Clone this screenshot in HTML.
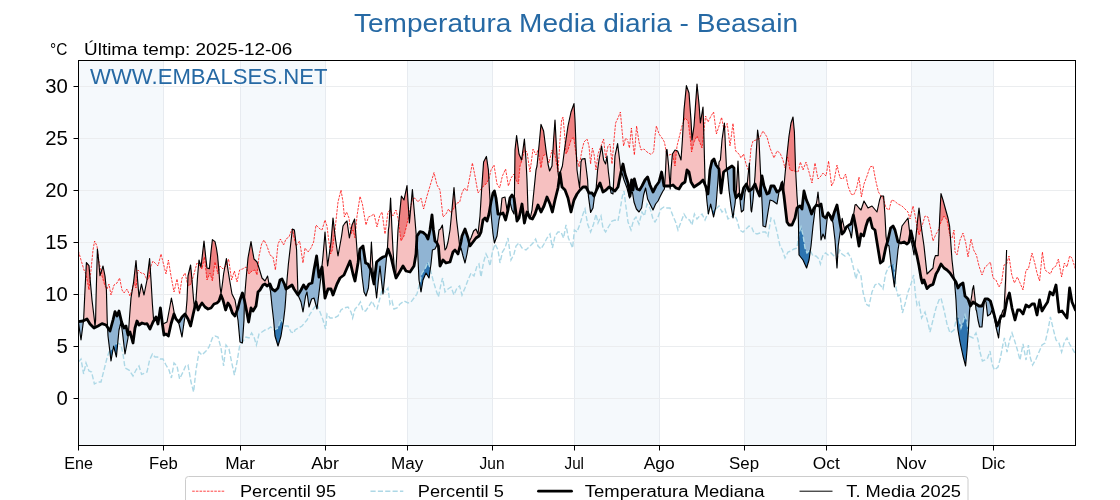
<!DOCTYPE html>
<html><head><meta charset="utf-8"><title>Temperatura Media diaria - Beasain</title>
<style>
html,body{margin:0;padding:0;background:#fff;}
body{width:1120px;height:500px;overflow:hidden;}
svg{display:block;font-family:"Liberation Sans",sans-serif;}
svg{will-change:transform;}
</style></head><body>
<svg width="1120" height="500" viewBox="0 0 1120 500">
<rect width="1120" height="500" fill="#ffffff"/>

<rect x="78.5" y="60.5" width="84.9" height="385.0" fill="#f5f9fc"/>
<rect x="240.1" y="60.5" width="84.9" height="385.0" fill="#f5f9fc"/>
<rect x="407.2" y="60.5" width="84.9" height="385.0" fill="#f5f9fc"/>
<rect x="574.3" y="60.5" width="84.9" height="385.0" fill="#f5f9fc"/>
<rect x="744.1" y="60.5" width="82.2" height="385.0" fill="#f5f9fc"/>
<rect x="911.2" y="60.5" width="82.2" height="385.0" fill="#f5f9fc"/>
<line x1="163.5" y1="60.5" x2="163.5" y2="445.5" stroke="#e7ebf0" stroke-width="1"/>
<line x1="240.5" y1="60.5" x2="240.5" y2="445.5" stroke="#e7ebf0" stroke-width="1"/>
<line x1="325.5" y1="60.5" x2="325.5" y2="445.5" stroke="#e7ebf0" stroke-width="1"/>
<line x1="407.5" y1="60.5" x2="407.5" y2="445.5" stroke="#e7ebf0" stroke-width="1"/>
<line x1="492.5" y1="60.5" x2="492.5" y2="445.5" stroke="#e7ebf0" stroke-width="1"/>
<line x1="574.5" y1="60.5" x2="574.5" y2="445.5" stroke="#e7ebf0" stroke-width="1"/>
<line x1="659.5" y1="60.5" x2="659.5" y2="445.5" stroke="#e7ebf0" stroke-width="1"/>
<line x1="744.5" y1="60.5" x2="744.5" y2="445.5" stroke="#e7ebf0" stroke-width="1"/>
<line x1="826.5" y1="60.5" x2="826.5" y2="445.5" stroke="#e7ebf0" stroke-width="1"/>
<line x1="911.5" y1="60.5" x2="911.5" y2="445.5" stroke="#e7ebf0" stroke-width="1"/>
<line x1="993.5" y1="60.5" x2="993.5" y2="445.5" stroke="#e7ebf0" stroke-width="1"/>
<line x1="78.5" y1="398.5" x2="1075.5" y2="398.5" stroke="#ebedef" stroke-width="1"/>
<line x1="78.5" y1="346.5" x2="1075.5" y2="346.5" stroke="#ebedef" stroke-width="1"/>
<line x1="78.5" y1="294.5" x2="1075.5" y2="294.5" stroke="#ebedef" stroke-width="1"/>
<line x1="78.5" y1="242.5" x2="1075.5" y2="242.5" stroke="#ebedef" stroke-width="1"/>
<line x1="78.5" y1="190.5" x2="1075.5" y2="190.5" stroke="#ebedef" stroke-width="1"/>
<line x1="78.5" y1="138.5" x2="1075.5" y2="138.5" stroke="#ebedef" stroke-width="1"/>
<line x1="78.5" y1="86.5" x2="1075.5" y2="86.5" stroke="#ebedef" stroke-width="1"/>
<defs>
<clipPath id="cplot"><rect x="78.5" y="60.5" width="997.0" height="385.0"/></clipPath>
<clipPath id="aboveMed"><polygon points="78.4,321.6 83.0,321.0 87.0,319.0 90.0,324.0 94.0,328.0 98.0,326.0 102.0,323.6 106.0,325.0 110.0,331.0 113.0,320.0 115.0,311.6 117.0,316.0 119.0,311.0 121.6,322.0 124.0,328.0 126.0,326.0 128.0,335.0 130.0,332.0 133.0,343.0 135.0,328.0 137.0,321.0 139.0,325.0 142.0,323.0 145.0,324.0 147.0,323.6 150.0,329.0 153.0,322.0 156.0,317.0 158.0,324.0 160.4,308.0 162.4,324.0 164.0,335.0 166.0,334.0 168.4,336.0 171.0,324.0 174.0,314.0 176.0,319.0 179.0,322.0 182.0,317.0 185.0,314.0 188.0,319.0 190.6,326.0 193.0,315.0 196.0,302.0 198.0,310.0 200.0,306.0 202.0,303.0 205.0,307.0 208.0,309.0 211.0,308.0 214.0,304.0 217.0,303.0 219.0,301.0 221.0,295.0 223.0,300.0 225.6,310.0 228.0,303.0 230.0,306.0 232.4,313.0 235.0,316.0 238.0,308.0 240.0,300.0 242.4,293.0 244.4,300.0 246.4,310.0 248.6,322.0 251.0,308.0 253.0,311.0 256.0,306.0 258.0,292.0 260.0,290.0 263.0,285.0 265.0,284.0 267.0,286.0 270.0,284.0 272.0,289.0 275.0,291.0 278.0,288.0 280.0,280.0 282.0,279.0 284.4,284.0 286.0,289.0 289.0,287.0 292.0,285.0 294.0,289.0 298.0,295.0 301.0,290.0 303.6,285.0 306.0,289.0 309.0,284.0 312.0,283.0 314.0,270.0 316.6,256.0 319.0,277.0 322.0,267.0 325.0,298.0 328.0,289.0 331.0,289.0 333.0,295.0 337.0,284.0 340.0,278.0 344.0,275.0 347.0,268.0 350.0,261.0 353.0,274.0 355.0,281.0 358.0,263.0 360.0,249.0 363.0,246.0 365.6,263.0 368.0,264.0 371.0,270.0 374.0,284.0 376.6,262.0 380.0,259.0 383.0,257.0 386.0,256.0 388.0,249.0 391.0,257.0 394.0,270.0 396.0,278.0 399.0,273.0 403.0,266.0 406.0,271.0 410.0,272.0 414.0,266.0 416.0,254.0 417.0,236.0 420.0,231.6 423.0,232.4 426.0,235.0 428.0,239.0 430.0,230.0 432.0,215.0 433.4,230.0 435.0,241.0 437.0,243.0 438.4,246.0 440.0,266.0 443.0,260.0 446.0,263.0 450.0,262.0 453.0,252.0 455.0,250.0 458.0,254.0 461.0,242.0 462.0,236.0 465.0,229.0 468.0,238.0 470.0,246.0 473.0,242.0 476.0,238.0 479.0,236.0 481.0,232.0 483.0,220.0 485.0,218.0 487.0,221.0 489.0,214.0 491.0,202.0 493.0,193.0 494.4,191.0 496.0,198.0 498.0,214.0 501.0,214.0 503.0,213.0 505.6,220.0 508.0,210.0 510.0,198.0 512.0,195.0 514.0,198.0 517.0,221.0 519.0,218.0 522.0,204.0 524.4,223.0 527.0,212.0 530.0,218.0 532.4,219.0 535.0,214.0 538.0,205.0 541.0,212.0 544.0,206.0 547.0,197.0 550.0,204.0 552.4,212.0 555.0,200.0 558.0,188.0 560.0,173.0 562.0,187.0 565.0,190.0 568.0,198.0 571.0,212.0 574.0,200.0 577.0,194.0 580.0,190.0 583.0,187.0 586.0,187.0 589.0,193.0 592.0,193.0 594.0,196.0 597.0,189.0 600.0,183.0 603.0,192.0 606.0,190.0 609.0,187.0 612.0,189.0 615.0,191.0 618.0,187.0 621.0,172.0 623.0,164.0 625.0,174.0 628.0,183.0 630.0,196.0 631.6,180.0 633.0,190.0 634.4,179.0 637.0,189.0 639.6,190.0 642.0,186.0 645.0,180.0 647.6,177.0 650.0,185.0 653.0,192.0 656.0,186.0 659.0,182.0 661.6,172.0 664.0,186.0 667.0,186.0 670.0,186.0 673.0,185.0 676.0,188.0 679.0,189.0 682.0,184.0 685.0,182.0 687.0,170.0 689.0,172.0 691.0,182.0 694.0,187.0 697.0,185.0 700.0,183.0 703.0,180.0 705.6,186.0 708.0,194.0 710.0,170.0 712.0,161.0 714.0,159.0 716.0,165.0 719.0,169.0 721.0,193.0 723.6,172.0 726.0,170.0 729.0,168.0 732.0,166.0 734.0,168.0 734.3,190.0 736.0,198.0 739.0,194.0 741.0,199.0 743.6,188.0 746.4,184.0 749.0,191.0 752.0,189.0 755.0,184.0 757.0,190.0 759.6,196.0 762.0,176.0 764.0,186.0 767.0,194.0 769.0,193.0 771.0,186.0 774.0,186.0 777.0,192.0 780.0,190.0 782.0,183.0 784.0,196.0 785.6,210.0 787.0,222.0 789.0,225.0 792.0,225.0 795.0,218.0 797.0,208.0 800.0,206.0 802.0,209.0 804.0,191.0 806.4,200.0 809.0,206.0 811.6,214.0 814.0,208.0 816.4,205.0 819.0,206.0 821.0,204.0 823.0,216.0 825.6,218.0 828.0,213.0 830.0,216.0 832.0,220.0 834.4,212.0 837.0,205.0 840.0,223.0 842.0,234.0 844.0,232.0 846.4,227.0 849.0,225.0 851.0,224.0 853.4,215.0 856.0,228.0 859.0,246.0 861.0,234.0 863.6,236.0 866.0,226.0 868.0,220.0 870.0,218.0 872.4,228.0 875.0,230.0 877.6,246.0 880.4,263.0 883.0,261.0 885.6,248.0 888.0,240.0 890.6,228.0 893.0,226.0 895.0,230.0 898.0,242.0 901.0,243.0 904.0,242.0 907.0,244.0 909.0,242.0 911.0,231.0 913.0,240.0 915.0,248.0 917.0,256.0 919.0,266.0 921.0,278.0 922.4,283.0 924.0,280.0 927.0,288.6 930.0,285.6 933.0,284.4 936.0,274.0 938.0,270.6 941.0,264.0 944.0,268.0 947.0,270.0 950.0,273.0 954.0,279.0 956.0,282.0 958.0,288.0 960.0,285.0 963.0,283.0 965.0,296.0 968.0,299.0 970.4,306.0 973.0,302.0 976.0,304.0 979.0,306.0 982.0,306.0 985.0,299.0 988.0,299.0 990.4,301.0 993.0,310.0 995.0,318.0 997.0,326.0 999.0,322.0 1001.0,316.0 1004.0,316.0 1007.0,300.0 1009.4,293.0 1012.0,308.0 1015.0,320.0 1017.6,310.0 1020.0,310.0 1023.0,314.0 1026.0,305.0 1029.0,307.0 1032.0,304.0 1034.4,304.0 1037.0,315.0 1039.6,300.0 1042.0,311.0 1045.0,306.0 1047.6,302.0 1050.0,292.0 1053.0,295.0 1056.0,285.0 1059.0,312.0 1062.0,311.0 1067.0,318.0 1069.6,288.0 1072.0,302.0 1075.4,310.0 1075.4,0 78.4,0"/></clipPath>
<clipPath id="belowMed"><polygon points="78.4,321.6 83.0,321.0 87.0,319.0 90.0,324.0 94.0,328.0 98.0,326.0 102.0,323.6 106.0,325.0 110.0,331.0 113.0,320.0 115.0,311.6 117.0,316.0 119.0,311.0 121.6,322.0 124.0,328.0 126.0,326.0 128.0,335.0 130.0,332.0 133.0,343.0 135.0,328.0 137.0,321.0 139.0,325.0 142.0,323.0 145.0,324.0 147.0,323.6 150.0,329.0 153.0,322.0 156.0,317.0 158.0,324.0 160.4,308.0 162.4,324.0 164.0,335.0 166.0,334.0 168.4,336.0 171.0,324.0 174.0,314.0 176.0,319.0 179.0,322.0 182.0,317.0 185.0,314.0 188.0,319.0 190.6,326.0 193.0,315.0 196.0,302.0 198.0,310.0 200.0,306.0 202.0,303.0 205.0,307.0 208.0,309.0 211.0,308.0 214.0,304.0 217.0,303.0 219.0,301.0 221.0,295.0 223.0,300.0 225.6,310.0 228.0,303.0 230.0,306.0 232.4,313.0 235.0,316.0 238.0,308.0 240.0,300.0 242.4,293.0 244.4,300.0 246.4,310.0 248.6,322.0 251.0,308.0 253.0,311.0 256.0,306.0 258.0,292.0 260.0,290.0 263.0,285.0 265.0,284.0 267.0,286.0 270.0,284.0 272.0,289.0 275.0,291.0 278.0,288.0 280.0,280.0 282.0,279.0 284.4,284.0 286.0,289.0 289.0,287.0 292.0,285.0 294.0,289.0 298.0,295.0 301.0,290.0 303.6,285.0 306.0,289.0 309.0,284.0 312.0,283.0 314.0,270.0 316.6,256.0 319.0,277.0 322.0,267.0 325.0,298.0 328.0,289.0 331.0,289.0 333.0,295.0 337.0,284.0 340.0,278.0 344.0,275.0 347.0,268.0 350.0,261.0 353.0,274.0 355.0,281.0 358.0,263.0 360.0,249.0 363.0,246.0 365.6,263.0 368.0,264.0 371.0,270.0 374.0,284.0 376.6,262.0 380.0,259.0 383.0,257.0 386.0,256.0 388.0,249.0 391.0,257.0 394.0,270.0 396.0,278.0 399.0,273.0 403.0,266.0 406.0,271.0 410.0,272.0 414.0,266.0 416.0,254.0 417.0,236.0 420.0,231.6 423.0,232.4 426.0,235.0 428.0,239.0 430.0,230.0 432.0,215.0 433.4,230.0 435.0,241.0 437.0,243.0 438.4,246.0 440.0,266.0 443.0,260.0 446.0,263.0 450.0,262.0 453.0,252.0 455.0,250.0 458.0,254.0 461.0,242.0 462.0,236.0 465.0,229.0 468.0,238.0 470.0,246.0 473.0,242.0 476.0,238.0 479.0,236.0 481.0,232.0 483.0,220.0 485.0,218.0 487.0,221.0 489.0,214.0 491.0,202.0 493.0,193.0 494.4,191.0 496.0,198.0 498.0,214.0 501.0,214.0 503.0,213.0 505.6,220.0 508.0,210.0 510.0,198.0 512.0,195.0 514.0,198.0 517.0,221.0 519.0,218.0 522.0,204.0 524.4,223.0 527.0,212.0 530.0,218.0 532.4,219.0 535.0,214.0 538.0,205.0 541.0,212.0 544.0,206.0 547.0,197.0 550.0,204.0 552.4,212.0 555.0,200.0 558.0,188.0 560.0,173.0 562.0,187.0 565.0,190.0 568.0,198.0 571.0,212.0 574.0,200.0 577.0,194.0 580.0,190.0 583.0,187.0 586.0,187.0 589.0,193.0 592.0,193.0 594.0,196.0 597.0,189.0 600.0,183.0 603.0,192.0 606.0,190.0 609.0,187.0 612.0,189.0 615.0,191.0 618.0,187.0 621.0,172.0 623.0,164.0 625.0,174.0 628.0,183.0 630.0,196.0 631.6,180.0 633.0,190.0 634.4,179.0 637.0,189.0 639.6,190.0 642.0,186.0 645.0,180.0 647.6,177.0 650.0,185.0 653.0,192.0 656.0,186.0 659.0,182.0 661.6,172.0 664.0,186.0 667.0,186.0 670.0,186.0 673.0,185.0 676.0,188.0 679.0,189.0 682.0,184.0 685.0,182.0 687.0,170.0 689.0,172.0 691.0,182.0 694.0,187.0 697.0,185.0 700.0,183.0 703.0,180.0 705.6,186.0 708.0,194.0 710.0,170.0 712.0,161.0 714.0,159.0 716.0,165.0 719.0,169.0 721.0,193.0 723.6,172.0 726.0,170.0 729.0,168.0 732.0,166.0 734.0,168.0 734.3,190.0 736.0,198.0 739.0,194.0 741.0,199.0 743.6,188.0 746.4,184.0 749.0,191.0 752.0,189.0 755.0,184.0 757.0,190.0 759.6,196.0 762.0,176.0 764.0,186.0 767.0,194.0 769.0,193.0 771.0,186.0 774.0,186.0 777.0,192.0 780.0,190.0 782.0,183.0 784.0,196.0 785.6,210.0 787.0,222.0 789.0,225.0 792.0,225.0 795.0,218.0 797.0,208.0 800.0,206.0 802.0,209.0 804.0,191.0 806.4,200.0 809.0,206.0 811.6,214.0 814.0,208.0 816.4,205.0 819.0,206.0 821.0,204.0 823.0,216.0 825.6,218.0 828.0,213.0 830.0,216.0 832.0,220.0 834.4,212.0 837.0,205.0 840.0,223.0 842.0,234.0 844.0,232.0 846.4,227.0 849.0,225.0 851.0,224.0 853.4,215.0 856.0,228.0 859.0,246.0 861.0,234.0 863.6,236.0 866.0,226.0 868.0,220.0 870.0,218.0 872.4,228.0 875.0,230.0 877.6,246.0 880.4,263.0 883.0,261.0 885.6,248.0 888.0,240.0 890.6,228.0 893.0,226.0 895.0,230.0 898.0,242.0 901.0,243.0 904.0,242.0 907.0,244.0 909.0,242.0 911.0,231.0 913.0,240.0 915.0,248.0 917.0,256.0 919.0,266.0 921.0,278.0 922.4,283.0 924.0,280.0 927.0,288.6 930.0,285.6 933.0,284.4 936.0,274.0 938.0,270.6 941.0,264.0 944.0,268.0 947.0,270.0 950.0,273.0 954.0,279.0 956.0,282.0 958.0,288.0 960.0,285.0 963.0,283.0 965.0,296.0 968.0,299.0 970.4,306.0 973.0,302.0 976.0,304.0 979.0,306.0 982.0,306.0 985.0,299.0 988.0,299.0 990.4,301.0 993.0,310.0 995.0,318.0 997.0,326.0 999.0,322.0 1001.0,316.0 1004.0,316.0 1007.0,300.0 1009.4,293.0 1012.0,308.0 1015.0,320.0 1017.6,310.0 1020.0,310.0 1023.0,314.0 1026.0,305.0 1029.0,307.0 1032.0,304.0 1034.4,304.0 1037.0,315.0 1039.6,300.0 1042.0,311.0 1045.0,306.0 1047.6,302.0 1050.0,292.0 1053.0,295.0 1056.0,285.0 1059.0,312.0 1062.0,311.0 1067.0,318.0 1069.6,288.0 1072.0,302.0 1075.4,310.0 1075.4,500 78.4,500"/></clipPath>
<clipPath id="above95"><polygon points="78.4,251.0 81.0,260.0 84.0,270.0 86.0,274.0 89.0,290.0 91.0,270.0 93.0,250.0 94.6,241.0 97.0,246.0 99.0,262.0 102.0,276.0 105.0,286.0 107.0,289.0 109.0,284.0 111.0,295.0 114.0,285.0 117.0,283.0 119.6,278.0 122.0,290.0 124.0,293.0 127.0,289.0 130.0,296.0 132.0,290.0 134.0,282.0 136.0,288.0 138.0,270.0 141.0,273.0 144.0,273.6 147.0,280.0 149.0,278.0 151.0,266.0 153.0,261.0 155.0,263.0 158.0,266.0 161.0,254.0 163.0,262.0 166.0,274.0 168.4,260.0 171.0,276.0 174.0,292.0 177.0,279.0 179.6,294.0 182.0,278.0 185.0,273.0 188.0,286.0 191.0,284.0 194.0,274.0 197.0,263.0 200.0,266.0 202.0,269.0 204.4,257.0 207.0,280.0 210.0,273.0 212.4,281.0 215.0,262.0 218.0,274.0 220.0,266.0 223.0,269.0 226.0,266.0 228.6,259.0 231.6,280.0 234.4,271.0 237.0,282.0 239.6,270.0 242.4,269.0 246.0,267.0 249.0,274.0 252.0,271.0 255.0,270.0 257.0,275.0 259.0,256.0 261.6,244.0 264.0,240.0 267.0,246.0 270.0,255.0 273.0,257.0 275.4,270.0 278.0,244.0 280.4,239.0 283.6,245.0 286.0,239.0 289.0,237.0 292.0,229.0 296.0,246.0 299.6,241.0 301.0,250.0 303.0,263.0 305.0,248.0 308.0,252.0 311.0,248.0 313.6,242.0 316.0,225.0 320.0,229.0 322.0,230.0 325.0,220.0 327.0,226.0 328.4,238.0 330.6,254.0 332.4,250.0 335.0,230.0 338.0,202.0 341.0,190.0 343.0,202.0 344.4,217.0 346.6,212.0 349.0,218.0 351.0,234.0 353.0,230.0 355.0,238.0 357.0,216.0 360.0,196.4 362.4,204.0 364.4,216.0 366.0,225.0 368.4,217.0 371.0,216.0 374.0,214.0 377.0,227.0 379.6,216.0 382.0,212.0 385.0,234.0 388.0,212.0 390.0,210.0 393.0,216.0 396.0,210.0 398.0,218.0 401.0,241.0 404.0,236.0 407.0,224.0 410.0,210.0 412.4,199.0 415.0,198.0 418.0,202.0 421.0,198.0 423.6,209.0 427.0,196.0 430.0,186.0 434.0,172.6 437.0,185.0 440.0,190.0 443.0,217.0 446.0,214.0 448.6,209.0 451.0,213.0 454.0,208.0 457.0,203.0 459.6,202.4 462.0,193.0 464.4,188.0 467.0,191.0 470.0,176.0 472.4,163.0 475.0,176.0 478.0,193.0 481.0,189.0 483.6,186.0 486.0,184.0 489.0,179.0 491.0,170.0 494.0,165.0 497.0,184.0 499.6,188.0 502.4,176.0 505.6,169.0 508.4,186.0 511.0,178.0 514.0,174.0 516.0,180.0 518.4,184.0 520.0,166.0 522.0,160.0 524.4,150.0 527.0,152.0 530.0,172.0 533.0,149.0 536.0,155.0 538.0,150.0 541.0,168.0 543.0,156.0 546.0,154.0 549.0,163.0 552.0,150.0 555.0,155.0 558.0,172.0 560.0,140.0 561.6,120.0 563.0,117.0 564.4,132.0 566.0,154.0 568.0,150.0 571.0,140.0 573.6,137.0 576.0,154.0 579.0,167.0 582.0,150.0 584.0,142.0 587.0,139.0 589.0,146.0 590.6,164.0 592.4,148.0 594.0,154.0 596.0,170.0 598.0,154.0 601.0,146.0 603.6,139.0 605.6,158.0 608.0,146.0 610.0,144.0 612.0,164.0 614.0,140.0 615.6,123.0 618.0,118.0 620.4,112.0 622.0,130.0 623.6,146.0 625.6,138.0 627.6,140.0 629.4,148.0 631.4,128.0 633.0,144.0 634.4,155.0 636.6,126.0 639.0,142.0 641.0,150.0 644.0,149.0 647.0,152.0 651.0,154.4 653.6,152.0 655.0,136.0 656.4,126.0 659.0,134.0 662.0,138.0 664.4,142.0 667.0,156.0 669.0,155.0 672.4,154.0 675.0,166.0 677.0,146.0 680.0,134.0 682.0,126.0 685.0,118.0 688.0,121.0 690.0,136.0 691.6,152.0 694.0,142.0 697.0,136.0 699.6,142.0 702.0,148.0 704.0,130.0 705.6,116.0 708.0,122.0 711.0,116.0 713.6,112.0 716.4,134.0 719.0,126.0 721.6,117.4 724.0,130.0 727.2,123.4 730.0,146.0 733.0,123.4 735.4,150.0 736.4,152.0 739.0,154.0 741.0,158.0 743.6,154.0 746.0,164.0 749.0,172.0 751.0,148.0 753.0,141.0 756.0,140.0 759.0,139.0 763.0,131.0 767.0,137.0 770.0,148.0 774.0,158.0 777.0,151.0 780.0,153.0 783.0,160.0 785.0,168.0 787.6,157.0 790.0,170.0 794.0,171.0 798.0,172.0 800.4,162.0 803.0,170.0 806.0,162.0 809.0,172.0 812.0,183.0 815.0,163.0 818.0,179.0 821.0,176.0 823.0,173.0 826.0,176.0 828.6,161.0 831.6,186.0 834.0,181.0 837.0,165.0 840.0,178.0 843.0,179.0 845.6,174.0 848.0,186.0 851.0,194.0 853.6,195.0 856.4,189.0 859.0,177.0 861.4,197.0 864.0,184.0 867.0,176.0 870.0,167.0 873.0,166.0 875.6,180.0 878.4,192.0 881.0,196.0 883.6,199.0 886.0,208.0 889.0,210.0 891.6,200.0 894.4,201.0 898.0,204.0 902.0,206.0 905.0,209.0 908.0,212.0 910.0,219.0 913.0,206.0 915.0,215.0 917.0,227.0 919.0,235.0 922.0,226.0 925.0,216.0 928.0,217.0 931.0,230.0 933.0,241.0 936.0,234.0 938.0,231.0 941.0,222.0 944.0,216.0 947.0,220.0 950.0,236.0 952.0,238.0 954.0,230.0 955.0,252.0 957.0,255.0 960.0,240.0 963.0,233.0 965.6,242.0 968.0,257.0 971.0,239.0 973.6,250.0 976.4,255.0 979.0,266.0 982.0,275.0 985.0,267.0 987.6,265.0 990.4,262.0 993.0,278.0 996.0,280.0 999.0,287.0 1001.6,282.0 1004.0,265.0 1006.6,264.0 1009.0,256.0 1011.6,274.0 1014.4,283.0 1017.4,277.0 1020.0,283.0 1023.0,290.0 1026.0,270.0 1028.4,269.0 1032.0,253.0 1035.0,264.0 1037.0,273.0 1039.6,281.0 1042.4,252.0 1045.0,270.0 1047.6,272.0 1050.4,274.0 1053.0,268.0 1056.0,266.0 1058.4,259.0 1061.6,277.0 1064.4,263.0 1067.0,267.0 1069.6,256.0 1072.0,258.0 1075.4,269.0 1075.4,0 78.4,0"/></clipPath>
<clipPath id="below5"><polygon points="78.4,362.0 81.0,359.0 83.6,374.0 86.0,363.0 89.0,371.0 91.6,372.0 94.4,384.0 98.0,382.0 101.0,382.0 104.0,370.0 107.0,358.0 109.0,352.0 112.0,349.0 115.0,345.0 118.0,343.0 121.0,345.0 123.0,354.0 125.0,368.0 129.0,370.0 133.0,376.0 136.0,370.0 139.0,366.0 141.6,374.4 145.0,373.0 147.0,372.0 149.6,360.0 152.4,354.0 155.0,357.0 157.6,357.0 160.0,359.0 163.0,359.0 166.0,365.0 169.0,370.0 171.4,378.0 174.0,363.0 177.0,366.0 179.6,379.0 183.0,372.0 185.6,366.0 188.0,365.0 191.0,382.0 193.6,392.0 196.0,370.0 199.0,352.0 202.0,355.0 206.0,351.0 209.0,347.0 212.4,338.0 215.0,336.0 218.0,337.0 221.0,348.0 223.6,366.0 226.0,345.0 229.0,349.0 231.6,362.0 234.4,375.0 237.0,362.0 239.6,346.0 242.4,342.0 246.0,337.0 249.0,338.0 251.6,333.0 254.0,337.0 256.4,345.0 259.0,334.0 262.0,332.0 265.0,330.0 268.0,329.0 270.6,327.0 274.0,330.0 278.0,328.0 281.0,319.0 285.0,326.0 288.0,326.0 291.0,332.0 294.0,333.0 295.0,330.0 302.0,326.0 307.0,320.0 310.0,314.0 314.0,308.0 317.0,304.0 320.0,312.0 323.0,320.0 325.6,329.0 327.0,314.0 330.0,318.0 334.0,318.0 338.0,316.0 341.0,310.0 344.0,308.0 348.0,307.0 351.0,312.0 352.6,318.0 355.0,309.0 358.0,306.0 360.4,302.0 363.0,311.0 365.6,311.0 369.0,306.0 372.0,301.0 375.0,307.0 377.0,309.0 380.0,298.0 382.4,288.0 385.0,292.0 388.0,288.0 390.0,304.0 392.0,301.0 394.0,309.0 397.0,308.0 400.0,304.0 404.0,301.0 408.0,303.0 411.0,302.0 414.0,298.0 417.0,294.0 420.0,282.0 422.0,273.0 425.0,269.0 428.0,262.0 430.0,268.0 433.0,280.0 436.0,290.0 438.4,297.0 441.0,284.0 442.6,278.0 445.0,292.0 448.0,289.0 451.0,287.0 454.0,295.0 457.0,288.0 459.6,286.0 462.0,295.0 465.0,288.0 468.0,280.0 471.0,273.0 474.0,276.0 477.0,266.0 479.0,264.0 481.0,277.0 483.6,262.0 486.0,254.0 488.0,258.0 490.0,266.0 492.4,252.0 495.0,244.0 498.0,250.0 500.0,263.0 502.4,252.0 505.0,248.0 508.0,238.0 511.0,260.0 514.0,254.0 516.0,246.0 519.0,243.0 522.0,248.0 526.0,250.0 530.0,246.0 533.0,243.0 535.6,239.0 538.0,246.0 541.0,249.0 544.0,244.0 547.0,238.0 550.0,234.0 552.4,248.0 555.0,236.0 558.0,232.0 561.0,232.0 563.6,238.0 566.0,225.0 568.4,238.0 571.0,244.0 572.6,248.0 574.4,230.0 577.0,232.0 580.0,224.0 583.0,214.0 585.0,209.0 587.6,224.0 590.6,232.0 593.6,224.0 596.0,214.0 598.0,223.0 601.0,216.0 603.0,228.0 605.6,232.0 609.0,226.0 612.0,221.0 615.0,220.0 618.0,221.0 620.4,208.0 622.4,196.0 624.0,191.0 625.6,204.0 628.0,222.0 631.0,230.0 633.6,220.0 636.0,217.0 639.0,224.0 642.0,212.0 644.4,216.0 647.0,204.0 650.0,208.0 653.0,219.0 655.0,222.0 658.0,217.0 661.0,209.0 664.0,207.0 667.0,208.0 670.0,208.0 673.0,216.0 675.6,222.0 678.0,230.0 681.0,222.0 684.0,214.0 687.0,219.0 689.6,220.0 692.0,225.0 694.4,214.0 697.0,219.0 699.6,216.0 702.0,214.0 705.0,220.0 707.6,214.0 710.0,207.0 713.0,210.0 716.0,209.0 719.0,206.0 722.0,212.0 725.0,209.0 728.0,219.0 731.0,217.0 734.0,214.0 737.0,220.0 739.6,230.0 743.0,232.0 746.0,229.0 749.0,226.0 751.6,227.0 754.0,233.0 757.0,234.0 760.0,233.0 763.0,232.0 765.6,232.0 768.0,236.0 771.0,218.0 774.0,220.0 777.0,232.0 780.0,246.0 782.4,250.0 785.0,258.0 788.0,252.0 791.0,251.0 794.0,249.0 797.0,248.0 799.0,233.0 801.0,227.0 803.0,235.0 805.0,248.0 807.0,253.0 810.0,250.0 813.0,256.0 816.0,256.0 819.0,259.0 820.4,264.0 823.0,255.0 825.6,253.0 828.0,255.0 831.0,253.0 834.0,256.0 837.0,259.0 839.6,250.0 842.0,254.0 845.0,256.0 848.0,253.0 851.0,258.0 853.0,266.0 856.0,279.0 858.0,270.0 861.0,276.0 863.0,292.0 866.0,304.0 869.0,306.0 872.0,292.0 875.0,285.0 878.0,283.0 881.0,286.0 883.0,289.0 885.6,274.0 888.0,268.0 891.0,265.0 894.0,264.0 896.0,288.0 898.0,296.0 900.0,295.0 902.4,313.0 905.0,304.0 908.0,292.0 911.0,284.0 913.6,275.0 915.6,296.0 917.0,305.0 919.0,302.0 921.6,318.0 925.0,312.0 928.0,323.0 930.0,332.0 933.0,320.0 936.0,308.0 939.0,300.0 941.0,298.0 944.0,310.0 947.0,324.0 950.0,333.0 954.0,330.0 957.0,316.0 959.0,319.0 961.0,328.0 963.0,322.0 965.0,315.0 967.0,322.0 969.0,336.0 973.0,338.0 976.0,333.0 978.0,340.0 980.0,352.0 982.4,361.0 985.0,360.0 987.6,358.0 990.0,351.0 992.0,364.0 994.4,370.0 998.0,367.0 1000.4,358.0 1003.0,344.0 1004.4,338.0 1007.0,352.0 1009.6,340.0 1012.0,333.0 1014.4,340.0 1017.4,350.0 1020.0,360.0 1023.0,344.0 1026.0,360.0 1028.4,345.0 1030.4,358.0 1032.6,365.0 1036.0,359.0 1039.0,352.0 1042.0,345.0 1045.0,343.0 1048.0,330.0 1050.4,317.0 1053.0,328.0 1056.0,340.0 1059.0,343.0 1061.6,352.0 1064.4,342.0 1067.0,338.0 1069.6,344.0 1072.0,348.0 1075.4,354.0 1075.4,500 78.4,500"/></clipPath>
</defs>
<g clip-path="url(#cplot)">
<g clip-path="url(#aboveMed)"><polygon points="78.4,322.0 81.0,340.0 83.6,320.0 85.0,290.0 86.4,262.6 89.0,265.6 90.0,278.0 92.0,300.0 94.4,320.0 95.0,327.0 95.6,320.0 96.0,300.0 97.4,249.0 98.6,260.0 100.0,275.6 103.0,266.0 105.0,276.0 106.4,290.0 107.2,320.0 108.0,336.0 111.0,361.0 113.6,346.0 116.4,357.0 119.0,330.0 121.0,322.0 122.4,332.0 125.0,354.0 128.0,338.0 129.2,322.0 129.6,316.0 131.0,298.0 133.6,282.0 136.0,260.6 137.6,280.0 139.0,297.0 141.4,284.0 144.0,295.0 147.0,280.0 149.6,258.6 151.0,280.0 152.4,304.0 153.6,320.0 156.0,317.0 158.0,324.0 160.4,308.0 162.4,324.0 164.0,323.6 167.0,322.0 170.0,306.0 171.4,298.0 173.0,306.0 174.4,314.0 176.0,319.0 179.0,324.0 182.0,337.0 184.4,320.0 186.0,312.0 187.0,300.0 188.0,276.0 190.6,265.0 192.0,280.0 193.6,300.0 194.4,307.0 196.0,300.0 197.6,276.0 199.0,260.0 201.0,267.0 204.0,241.0 205.6,256.0 207.0,268.0 209.4,268.6 211.0,252.0 212.4,239.6 215.0,241.6 216.4,248.0 217.6,256.0 219.0,272.0 220.0,286.0 221.0,294.0 222.4,284.0 223.6,274.0 226.4,258.6 228.0,270.0 229.6,280.0 232.0,294.0 235.0,300.0 236.4,308.0 237.6,318.0 238.0,320.0 240.0,342.0 242.4,343.0 244.0,320.0 244.4,300.0 246.0,280.0 248.0,258.0 251.0,241.6 252.4,250.0 254.0,259.0 257.0,262.0 259.0,268.0 262.0,278.0 265.0,281.0 267.6,276.0 269.0,284.0 270.6,292.0 272.0,306.0 273.6,320.0 275.0,336.0 278.0,346.0 281.0,336.0 283.6,320.0 285.0,308.0 285.6,300.0 287.0,280.0 288.4,264.0 290.0,250.0 292.4,229.0 294.4,230.0 295.6,240.0 296.6,250.0 297.2,270.0 298.0,295.0 301.0,302.0 303.0,312.0 305.6,296.0 307.0,292.0 309.0,307.0 311.6,299.0 314.0,298.0 317.0,309.0 319.6,288.0 321.0,276.0 323.0,256.0 324.4,240.0 325.0,232.0 326.4,250.0 327.6,266.0 331.0,242.0 333.0,218.0 334.4,230.0 335.6,240.0 338.0,256.0 341.6,236.0 343.0,226.0 345.0,223.0 347.0,221.0 349.4,238.0 352.0,225.0 354.6,219.0 356.0,236.0 357.0,250.0 358.0,263.0 360.0,252.0 362.0,276.0 364.0,292.0 366.0,296.0 368.4,288.0 370.0,270.0 371.4,242.0 373.0,270.0 375.0,284.0 376.6,298.0 378.2,282.0 380.0,266.0 381.6,282.0 383.0,294.0 384.6,278.0 386.4,259.0 387.4,249.0 388.4,230.0 389.0,226.0 390.6,198.0 392.0,230.0 393.0,250.0 394.4,270.0 395.6,277.0 397.0,250.0 398.0,230.0 399.0,220.0 401.4,196.0 404.0,200.0 407.0,185.6 409.4,223.0 412.4,189.6 415.0,220.0 416.6,240.0 417.6,250.0 419.0,280.0 421.0,292.0 423.0,280.0 426.0,273.0 429.0,278.0 431.0,264.0 432.4,250.0 435.0,249.0 437.0,245.0 439.0,230.0 440.4,229.0 442.4,225.0 445.0,250.0 446.4,248.0 448.0,242.0 450.0,230.0 451.0,220.0 454.0,187.6 456.6,220.0 459.0,240.0 460.0,250.0 461.0,248.0 463.0,256.0 465.0,263.0 467.0,254.0 469.0,242.0 471.0,238.0 473.6,231.0 476.0,229.0 478.0,234.0 480.0,216.0 481.6,190.0 483.6,162.0 486.4,156.4 488.4,170.0 490.0,200.0 491.6,220.0 493.0,234.0 494.4,243.0 497.0,236.0 499.0,220.0 500.4,214.0 502.0,198.0 505.0,197.0 507.0,210.0 508.4,204.0 510.0,202.0 512.0,210.0 514.0,214.0 514.4,200.0 515.0,150.0 516.6,135.6 519.0,154.0 521.6,160.0 524.4,139.0 526.0,160.0 527.0,180.0 528.0,210.0 530.0,219.0 532.0,210.0 534.0,190.0 536.0,170.0 537.0,166.0 539.0,146.0 541.0,124.4 543.6,131.0 546.0,150.0 548.0,164.0 549.6,171.0 552.0,166.0 553.6,140.0 555.0,120.0 556.4,146.0 558.0,172.0 559.0,180.0 560.0,173.0 562.4,166.0 565.0,146.0 568.0,126.0 571.0,112.0 574.0,103.6 575.0,120.0 576.0,146.0 577.0,170.0 578.4,180.0 579.6,188.0 581.0,162.0 582.0,159.0 585.0,158.6 586.4,170.0 587.6,180.0 588.4,196.0 590.6,212.4 593.0,208.0 594.4,197.0 596.0,190.0 597.6,170.0 599.0,160.0 601.6,146.0 603.6,160.0 605.6,164.0 607.0,156.0 608.4,172.0 609.4,180.0 610.0,187.0 611.0,193.0 613.0,194.0 614.0,174.0 615.0,156.0 617.6,143.6 619.6,160.0 621.0,174.0 622.0,173.0 624.0,180.0 627.0,188.0 629.6,198.0 631.0,193.0 632.4,192.0 634.0,202.0 636.4,209.0 639.0,212.0 641.6,208.0 643.6,195.0 645.6,188.0 647.6,199.0 650.0,204.0 653.0,210.0 655.6,204.0 658.0,201.0 660.4,196.0 663.0,191.0 664.4,189.0 665.6,170.0 666.4,150.0 667.0,149.6 668.6,166.0 669.6,180.0 670.2,189.0 671.0,170.0 672.4,154.0 675.0,150.0 677.6,151.0 680.0,157.0 681.0,160.0 682.4,140.0 684.0,110.0 686.4,85.6 689.0,93.0 691.0,120.0 692.0,140.0 694.0,126.0 697.0,84.0 699.0,104.0 700.4,123.0 703.0,107.0 704.0,140.0 705.0,180.0 705.6,186.0 707.0,202.0 708.4,214.0 710.6,204.0 713.6,217.0 716.0,206.0 718.0,180.0 719.0,162.0 720.4,160.0 722.0,140.0 724.4,123.0 725.6,150.0 726.6,170.0 727.4,172.0 729.0,190.0 731.0,206.0 733.0,218.0 734.0,210.0 735.0,204.0 736.4,190.0 738.0,161.0 739.6,194.0 740.4,204.0 741.4,212.0 743.6,210.0 745.0,192.0 747.0,186.0 748.0,176.0 749.4,163.0 750.0,190.0 751.0,210.0 751.6,212.0 753.0,200.0 754.0,188.0 755.0,176.0 756.4,150.0 757.6,130.0 759.0,140.0 760.4,170.0 761.6,194.0 762.4,210.0 763.0,226.0 765.6,227.0 768.0,212.0 770.0,200.0 773.0,201.0 777.0,204.0 779.0,192.0 781.0,188.0 782.4,181.0 783.6,190.0 786.0,164.0 789.0,136.0 791.0,123.0 793.0,117.0 794.4,132.0 795.6,170.0 797.0,196.0 798.0,210.0 798.4,220.0 799.0,255.0 803.0,260.0 806.6,268.0 809.0,260.0 811.0,246.0 813.0,226.0 815.0,210.0 817.0,200.0 818.0,192.0 819.0,202.0 820.0,220.0 821.0,240.0 823.0,234.0 825.0,239.0 827.0,220.0 828.4,212.0 831.0,216.0 833.0,223.0 835.0,240.0 837.0,268.0 838.2,246.0 839.0,240.0 842.2,218.4 843.4,224.0 845.0,231.0 847.4,225.6 850.0,232.0 851.4,238.0 852.4,230.0 853.4,216.0 855.0,205.0 856.0,204.4 859.0,208.0 861.0,210.0 864.0,201.0 868.0,208.0 872.0,206.0 877.0,212.0 879.6,200.0 881.0,196.0 883.6,196.0 885.0,216.0 886.0,236.0 887.0,244.0 889.0,246.0 891.0,264.0 892.6,274.0 894.4,287.0 895.6,274.0 896.6,264.0 898.0,250.0 899.6,240.0 902.0,226.0 905.0,222.0 908.0,218.0 909.4,230.0 911.0,240.0 912.4,246.0 914.0,255.0 915.6,240.0 917.6,220.0 919.0,208.0 920.4,220.0 922.0,232.0 924.0,246.0 927.0,274.0 930.0,271.0 933.0,268.0 934.0,260.0 935.4,255.6 938.2,255.6 938.8,240.0 939.6,220.0 940.4,204.0 941.0,193.6 943.0,200.0 946.0,211.0 948.0,218.0 949.6,226.0 950.6,240.0 952.0,260.0 953.6,274.0 954.4,280.0 956.0,300.0 957.0,320.0 958.0,330.0 960.0,342.0 963.0,356.0 965.6,366.0 967.0,350.0 968.4,330.0 969.6,310.0 970.4,304.0 972.0,294.0 972.4,290.0 973.6,285.6 975.0,298.0 976.0,310.0 976.4,310.0 978.0,320.0 979.6,327.0 982.0,327.0 983.4,310.0 984.4,300.0 986.0,302.0 987.6,316.0 990.4,314.0 992.0,310.0 994.0,316.0 996.0,327.0 998.6,338.0 1000.0,324.0 1001.0,316.0 1003.0,310.0 1004.0,310.0 1005.6,280.0 1006.6,250.0 1006.6,500 78.4,500" fill="#f6c0c0"/></g>
<g clip-path="url(#belowMed)"><polygon points="78.4,322.0 81.0,340.0 83.6,320.0 85.0,290.0 86.4,262.6 89.0,265.6 90.0,278.0 92.0,300.0 94.4,320.0 95.0,327.0 95.6,320.0 96.0,300.0 97.4,249.0 98.6,260.0 100.0,275.6 103.0,266.0 105.0,276.0 106.4,290.0 107.2,320.0 108.0,336.0 111.0,361.0 113.6,346.0 116.4,357.0 119.0,330.0 121.0,322.0 122.4,332.0 125.0,354.0 128.0,338.0 129.2,322.0 129.6,316.0 131.0,298.0 133.6,282.0 136.0,260.6 137.6,280.0 139.0,297.0 141.4,284.0 144.0,295.0 147.0,280.0 149.6,258.6 151.0,280.0 152.4,304.0 153.6,320.0 156.0,317.0 158.0,324.0 160.4,308.0 162.4,324.0 164.0,323.6 167.0,322.0 170.0,306.0 171.4,298.0 173.0,306.0 174.4,314.0 176.0,319.0 179.0,324.0 182.0,337.0 184.4,320.0 186.0,312.0 187.0,300.0 188.0,276.0 190.6,265.0 192.0,280.0 193.6,300.0 194.4,307.0 196.0,300.0 197.6,276.0 199.0,260.0 201.0,267.0 204.0,241.0 205.6,256.0 207.0,268.0 209.4,268.6 211.0,252.0 212.4,239.6 215.0,241.6 216.4,248.0 217.6,256.0 219.0,272.0 220.0,286.0 221.0,294.0 222.4,284.0 223.6,274.0 226.4,258.6 228.0,270.0 229.6,280.0 232.0,294.0 235.0,300.0 236.4,308.0 237.6,318.0 238.0,320.0 240.0,342.0 242.4,343.0 244.0,320.0 244.4,300.0 246.0,280.0 248.0,258.0 251.0,241.6 252.4,250.0 254.0,259.0 257.0,262.0 259.0,268.0 262.0,278.0 265.0,281.0 267.6,276.0 269.0,284.0 270.6,292.0 272.0,306.0 273.6,320.0 275.0,336.0 278.0,346.0 281.0,336.0 283.6,320.0 285.0,308.0 285.6,300.0 287.0,280.0 288.4,264.0 290.0,250.0 292.4,229.0 294.4,230.0 295.6,240.0 296.6,250.0 297.2,270.0 298.0,295.0 301.0,302.0 303.0,312.0 305.6,296.0 307.0,292.0 309.0,307.0 311.6,299.0 314.0,298.0 317.0,309.0 319.6,288.0 321.0,276.0 323.0,256.0 324.4,240.0 325.0,232.0 326.4,250.0 327.6,266.0 331.0,242.0 333.0,218.0 334.4,230.0 335.6,240.0 338.0,256.0 341.6,236.0 343.0,226.0 345.0,223.0 347.0,221.0 349.4,238.0 352.0,225.0 354.6,219.0 356.0,236.0 357.0,250.0 358.0,263.0 360.0,252.0 362.0,276.0 364.0,292.0 366.0,296.0 368.4,288.0 370.0,270.0 371.4,242.0 373.0,270.0 375.0,284.0 376.6,298.0 378.2,282.0 380.0,266.0 381.6,282.0 383.0,294.0 384.6,278.0 386.4,259.0 387.4,249.0 388.4,230.0 389.0,226.0 390.6,198.0 392.0,230.0 393.0,250.0 394.4,270.0 395.6,277.0 397.0,250.0 398.0,230.0 399.0,220.0 401.4,196.0 404.0,200.0 407.0,185.6 409.4,223.0 412.4,189.6 415.0,220.0 416.6,240.0 417.6,250.0 419.0,280.0 421.0,292.0 423.0,280.0 426.0,273.0 429.0,278.0 431.0,264.0 432.4,250.0 435.0,249.0 437.0,245.0 439.0,230.0 440.4,229.0 442.4,225.0 445.0,250.0 446.4,248.0 448.0,242.0 450.0,230.0 451.0,220.0 454.0,187.6 456.6,220.0 459.0,240.0 460.0,250.0 461.0,248.0 463.0,256.0 465.0,263.0 467.0,254.0 469.0,242.0 471.0,238.0 473.6,231.0 476.0,229.0 478.0,234.0 480.0,216.0 481.6,190.0 483.6,162.0 486.4,156.4 488.4,170.0 490.0,200.0 491.6,220.0 493.0,234.0 494.4,243.0 497.0,236.0 499.0,220.0 500.4,214.0 502.0,198.0 505.0,197.0 507.0,210.0 508.4,204.0 510.0,202.0 512.0,210.0 514.0,214.0 514.4,200.0 515.0,150.0 516.6,135.6 519.0,154.0 521.6,160.0 524.4,139.0 526.0,160.0 527.0,180.0 528.0,210.0 530.0,219.0 532.0,210.0 534.0,190.0 536.0,170.0 537.0,166.0 539.0,146.0 541.0,124.4 543.6,131.0 546.0,150.0 548.0,164.0 549.6,171.0 552.0,166.0 553.6,140.0 555.0,120.0 556.4,146.0 558.0,172.0 559.0,180.0 560.0,173.0 562.4,166.0 565.0,146.0 568.0,126.0 571.0,112.0 574.0,103.6 575.0,120.0 576.0,146.0 577.0,170.0 578.4,180.0 579.6,188.0 581.0,162.0 582.0,159.0 585.0,158.6 586.4,170.0 587.6,180.0 588.4,196.0 590.6,212.4 593.0,208.0 594.4,197.0 596.0,190.0 597.6,170.0 599.0,160.0 601.6,146.0 603.6,160.0 605.6,164.0 607.0,156.0 608.4,172.0 609.4,180.0 610.0,187.0 611.0,193.0 613.0,194.0 614.0,174.0 615.0,156.0 617.6,143.6 619.6,160.0 621.0,174.0 622.0,173.0 624.0,180.0 627.0,188.0 629.6,198.0 631.0,193.0 632.4,192.0 634.0,202.0 636.4,209.0 639.0,212.0 641.6,208.0 643.6,195.0 645.6,188.0 647.6,199.0 650.0,204.0 653.0,210.0 655.6,204.0 658.0,201.0 660.4,196.0 663.0,191.0 664.4,189.0 665.6,170.0 666.4,150.0 667.0,149.6 668.6,166.0 669.6,180.0 670.2,189.0 671.0,170.0 672.4,154.0 675.0,150.0 677.6,151.0 680.0,157.0 681.0,160.0 682.4,140.0 684.0,110.0 686.4,85.6 689.0,93.0 691.0,120.0 692.0,140.0 694.0,126.0 697.0,84.0 699.0,104.0 700.4,123.0 703.0,107.0 704.0,140.0 705.0,180.0 705.6,186.0 707.0,202.0 708.4,214.0 710.6,204.0 713.6,217.0 716.0,206.0 718.0,180.0 719.0,162.0 720.4,160.0 722.0,140.0 724.4,123.0 725.6,150.0 726.6,170.0 727.4,172.0 729.0,190.0 731.0,206.0 733.0,218.0 734.0,210.0 735.0,204.0 736.4,190.0 738.0,161.0 739.6,194.0 740.4,204.0 741.4,212.0 743.6,210.0 745.0,192.0 747.0,186.0 748.0,176.0 749.4,163.0 750.0,190.0 751.0,210.0 751.6,212.0 753.0,200.0 754.0,188.0 755.0,176.0 756.4,150.0 757.6,130.0 759.0,140.0 760.4,170.0 761.6,194.0 762.4,210.0 763.0,226.0 765.6,227.0 768.0,212.0 770.0,200.0 773.0,201.0 777.0,204.0 779.0,192.0 781.0,188.0 782.4,181.0 783.6,190.0 786.0,164.0 789.0,136.0 791.0,123.0 793.0,117.0 794.4,132.0 795.6,170.0 797.0,196.0 798.0,210.0 798.4,220.0 799.0,255.0 803.0,260.0 806.6,268.0 809.0,260.0 811.0,246.0 813.0,226.0 815.0,210.0 817.0,200.0 818.0,192.0 819.0,202.0 820.0,220.0 821.0,240.0 823.0,234.0 825.0,239.0 827.0,220.0 828.4,212.0 831.0,216.0 833.0,223.0 835.0,240.0 837.0,268.0 838.2,246.0 839.0,240.0 842.2,218.4 843.4,224.0 845.0,231.0 847.4,225.6 850.0,232.0 851.4,238.0 852.4,230.0 853.4,216.0 855.0,205.0 856.0,204.4 859.0,208.0 861.0,210.0 864.0,201.0 868.0,208.0 872.0,206.0 877.0,212.0 879.6,200.0 881.0,196.0 883.6,196.0 885.0,216.0 886.0,236.0 887.0,244.0 889.0,246.0 891.0,264.0 892.6,274.0 894.4,287.0 895.6,274.0 896.6,264.0 898.0,250.0 899.6,240.0 902.0,226.0 905.0,222.0 908.0,218.0 909.4,230.0 911.0,240.0 912.4,246.0 914.0,255.0 915.6,240.0 917.6,220.0 919.0,208.0 920.4,220.0 922.0,232.0 924.0,246.0 927.0,274.0 930.0,271.0 933.0,268.0 934.0,260.0 935.4,255.6 938.2,255.6 938.8,240.0 939.6,220.0 940.4,204.0 941.0,193.6 943.0,200.0 946.0,211.0 948.0,218.0 949.6,226.0 950.6,240.0 952.0,260.0 953.6,274.0 954.4,280.0 956.0,300.0 957.0,320.0 958.0,330.0 960.0,342.0 963.0,356.0 965.6,366.0 967.0,350.0 968.4,330.0 969.6,310.0 970.4,304.0 972.0,294.0 972.4,290.0 973.6,285.6 975.0,298.0 976.0,310.0 976.4,310.0 978.0,320.0 979.6,327.0 982.0,327.0 983.4,310.0 984.4,300.0 986.0,302.0 987.6,316.0 990.4,314.0 992.0,310.0 994.0,316.0 996.0,327.0 998.6,338.0 1000.0,324.0 1001.0,316.0 1003.0,310.0 1004.0,310.0 1005.6,280.0 1006.6,250.0 1006.6,0 78.4,0" fill="#90b4d3"/></g>
<g clip-path="url(#above95)"><polygon points="78.4,322.0 81.0,340.0 83.6,320.0 85.0,290.0 86.4,262.6 89.0,265.6 90.0,278.0 92.0,300.0 94.4,320.0 95.0,327.0 95.6,320.0 96.0,300.0 97.4,249.0 98.6,260.0 100.0,275.6 103.0,266.0 105.0,276.0 106.4,290.0 107.2,320.0 108.0,336.0 111.0,361.0 113.6,346.0 116.4,357.0 119.0,330.0 121.0,322.0 122.4,332.0 125.0,354.0 128.0,338.0 129.2,322.0 129.6,316.0 131.0,298.0 133.6,282.0 136.0,260.6 137.6,280.0 139.0,297.0 141.4,284.0 144.0,295.0 147.0,280.0 149.6,258.6 151.0,280.0 152.4,304.0 153.6,320.0 156.0,317.0 158.0,324.0 160.4,308.0 162.4,324.0 164.0,323.6 167.0,322.0 170.0,306.0 171.4,298.0 173.0,306.0 174.4,314.0 176.0,319.0 179.0,324.0 182.0,337.0 184.4,320.0 186.0,312.0 187.0,300.0 188.0,276.0 190.6,265.0 192.0,280.0 193.6,300.0 194.4,307.0 196.0,300.0 197.6,276.0 199.0,260.0 201.0,267.0 204.0,241.0 205.6,256.0 207.0,268.0 209.4,268.6 211.0,252.0 212.4,239.6 215.0,241.6 216.4,248.0 217.6,256.0 219.0,272.0 220.0,286.0 221.0,294.0 222.4,284.0 223.6,274.0 226.4,258.6 228.0,270.0 229.6,280.0 232.0,294.0 235.0,300.0 236.4,308.0 237.6,318.0 238.0,320.0 240.0,342.0 242.4,343.0 244.0,320.0 244.4,300.0 246.0,280.0 248.0,258.0 251.0,241.6 252.4,250.0 254.0,259.0 257.0,262.0 259.0,268.0 262.0,278.0 265.0,281.0 267.6,276.0 269.0,284.0 270.6,292.0 272.0,306.0 273.6,320.0 275.0,336.0 278.0,346.0 281.0,336.0 283.6,320.0 285.0,308.0 285.6,300.0 287.0,280.0 288.4,264.0 290.0,250.0 292.4,229.0 294.4,230.0 295.6,240.0 296.6,250.0 297.2,270.0 298.0,295.0 301.0,302.0 303.0,312.0 305.6,296.0 307.0,292.0 309.0,307.0 311.6,299.0 314.0,298.0 317.0,309.0 319.6,288.0 321.0,276.0 323.0,256.0 324.4,240.0 325.0,232.0 326.4,250.0 327.6,266.0 331.0,242.0 333.0,218.0 334.4,230.0 335.6,240.0 338.0,256.0 341.6,236.0 343.0,226.0 345.0,223.0 347.0,221.0 349.4,238.0 352.0,225.0 354.6,219.0 356.0,236.0 357.0,250.0 358.0,263.0 360.0,252.0 362.0,276.0 364.0,292.0 366.0,296.0 368.4,288.0 370.0,270.0 371.4,242.0 373.0,270.0 375.0,284.0 376.6,298.0 378.2,282.0 380.0,266.0 381.6,282.0 383.0,294.0 384.6,278.0 386.4,259.0 387.4,249.0 388.4,230.0 389.0,226.0 390.6,198.0 392.0,230.0 393.0,250.0 394.4,270.0 395.6,277.0 397.0,250.0 398.0,230.0 399.0,220.0 401.4,196.0 404.0,200.0 407.0,185.6 409.4,223.0 412.4,189.6 415.0,220.0 416.6,240.0 417.6,250.0 419.0,280.0 421.0,292.0 423.0,280.0 426.0,273.0 429.0,278.0 431.0,264.0 432.4,250.0 435.0,249.0 437.0,245.0 439.0,230.0 440.4,229.0 442.4,225.0 445.0,250.0 446.4,248.0 448.0,242.0 450.0,230.0 451.0,220.0 454.0,187.6 456.6,220.0 459.0,240.0 460.0,250.0 461.0,248.0 463.0,256.0 465.0,263.0 467.0,254.0 469.0,242.0 471.0,238.0 473.6,231.0 476.0,229.0 478.0,234.0 480.0,216.0 481.6,190.0 483.6,162.0 486.4,156.4 488.4,170.0 490.0,200.0 491.6,220.0 493.0,234.0 494.4,243.0 497.0,236.0 499.0,220.0 500.4,214.0 502.0,198.0 505.0,197.0 507.0,210.0 508.4,204.0 510.0,202.0 512.0,210.0 514.0,214.0 514.4,200.0 515.0,150.0 516.6,135.6 519.0,154.0 521.6,160.0 524.4,139.0 526.0,160.0 527.0,180.0 528.0,210.0 530.0,219.0 532.0,210.0 534.0,190.0 536.0,170.0 537.0,166.0 539.0,146.0 541.0,124.4 543.6,131.0 546.0,150.0 548.0,164.0 549.6,171.0 552.0,166.0 553.6,140.0 555.0,120.0 556.4,146.0 558.0,172.0 559.0,180.0 560.0,173.0 562.4,166.0 565.0,146.0 568.0,126.0 571.0,112.0 574.0,103.6 575.0,120.0 576.0,146.0 577.0,170.0 578.4,180.0 579.6,188.0 581.0,162.0 582.0,159.0 585.0,158.6 586.4,170.0 587.6,180.0 588.4,196.0 590.6,212.4 593.0,208.0 594.4,197.0 596.0,190.0 597.6,170.0 599.0,160.0 601.6,146.0 603.6,160.0 605.6,164.0 607.0,156.0 608.4,172.0 609.4,180.0 610.0,187.0 611.0,193.0 613.0,194.0 614.0,174.0 615.0,156.0 617.6,143.6 619.6,160.0 621.0,174.0 622.0,173.0 624.0,180.0 627.0,188.0 629.6,198.0 631.0,193.0 632.4,192.0 634.0,202.0 636.4,209.0 639.0,212.0 641.6,208.0 643.6,195.0 645.6,188.0 647.6,199.0 650.0,204.0 653.0,210.0 655.6,204.0 658.0,201.0 660.4,196.0 663.0,191.0 664.4,189.0 665.6,170.0 666.4,150.0 667.0,149.6 668.6,166.0 669.6,180.0 670.2,189.0 671.0,170.0 672.4,154.0 675.0,150.0 677.6,151.0 680.0,157.0 681.0,160.0 682.4,140.0 684.0,110.0 686.4,85.6 689.0,93.0 691.0,120.0 692.0,140.0 694.0,126.0 697.0,84.0 699.0,104.0 700.4,123.0 703.0,107.0 704.0,140.0 705.0,180.0 705.6,186.0 707.0,202.0 708.4,214.0 710.6,204.0 713.6,217.0 716.0,206.0 718.0,180.0 719.0,162.0 720.4,160.0 722.0,140.0 724.4,123.0 725.6,150.0 726.6,170.0 727.4,172.0 729.0,190.0 731.0,206.0 733.0,218.0 734.0,210.0 735.0,204.0 736.4,190.0 738.0,161.0 739.6,194.0 740.4,204.0 741.4,212.0 743.6,210.0 745.0,192.0 747.0,186.0 748.0,176.0 749.4,163.0 750.0,190.0 751.0,210.0 751.6,212.0 753.0,200.0 754.0,188.0 755.0,176.0 756.4,150.0 757.6,130.0 759.0,140.0 760.4,170.0 761.6,194.0 762.4,210.0 763.0,226.0 765.6,227.0 768.0,212.0 770.0,200.0 773.0,201.0 777.0,204.0 779.0,192.0 781.0,188.0 782.4,181.0 783.6,190.0 786.0,164.0 789.0,136.0 791.0,123.0 793.0,117.0 794.4,132.0 795.6,170.0 797.0,196.0 798.0,210.0 798.4,220.0 799.0,255.0 803.0,260.0 806.6,268.0 809.0,260.0 811.0,246.0 813.0,226.0 815.0,210.0 817.0,200.0 818.0,192.0 819.0,202.0 820.0,220.0 821.0,240.0 823.0,234.0 825.0,239.0 827.0,220.0 828.4,212.0 831.0,216.0 833.0,223.0 835.0,240.0 837.0,268.0 838.2,246.0 839.0,240.0 842.2,218.4 843.4,224.0 845.0,231.0 847.4,225.6 850.0,232.0 851.4,238.0 852.4,230.0 853.4,216.0 855.0,205.0 856.0,204.4 859.0,208.0 861.0,210.0 864.0,201.0 868.0,208.0 872.0,206.0 877.0,212.0 879.6,200.0 881.0,196.0 883.6,196.0 885.0,216.0 886.0,236.0 887.0,244.0 889.0,246.0 891.0,264.0 892.6,274.0 894.4,287.0 895.6,274.0 896.6,264.0 898.0,250.0 899.6,240.0 902.0,226.0 905.0,222.0 908.0,218.0 909.4,230.0 911.0,240.0 912.4,246.0 914.0,255.0 915.6,240.0 917.6,220.0 919.0,208.0 920.4,220.0 922.0,232.0 924.0,246.0 927.0,274.0 930.0,271.0 933.0,268.0 934.0,260.0 935.4,255.6 938.2,255.6 938.8,240.0 939.6,220.0 940.4,204.0 941.0,193.6 943.0,200.0 946.0,211.0 948.0,218.0 949.6,226.0 950.6,240.0 952.0,260.0 953.6,274.0 954.4,280.0 956.0,300.0 957.0,320.0 958.0,330.0 960.0,342.0 963.0,356.0 965.6,366.0 967.0,350.0 968.4,330.0 969.6,310.0 970.4,304.0 972.0,294.0 972.4,290.0 973.6,285.6 975.0,298.0 976.0,310.0 976.4,310.0 978.0,320.0 979.6,327.0 982.0,327.0 983.4,310.0 984.4,300.0 986.0,302.0 987.6,316.0 990.4,314.0 992.0,310.0 994.0,316.0 996.0,327.0 998.6,338.0 1000.0,324.0 1001.0,316.0 1003.0,310.0 1004.0,310.0 1005.6,280.0 1006.6,250.0 1006.6,500 78.4,500" fill="#ef8282"/></g>
<g clip-path="url(#below5)"><polygon points="78.4,322.0 81.0,340.0 83.6,320.0 85.0,290.0 86.4,262.6 89.0,265.6 90.0,278.0 92.0,300.0 94.4,320.0 95.0,327.0 95.6,320.0 96.0,300.0 97.4,249.0 98.6,260.0 100.0,275.6 103.0,266.0 105.0,276.0 106.4,290.0 107.2,320.0 108.0,336.0 111.0,361.0 113.6,346.0 116.4,357.0 119.0,330.0 121.0,322.0 122.4,332.0 125.0,354.0 128.0,338.0 129.2,322.0 129.6,316.0 131.0,298.0 133.6,282.0 136.0,260.6 137.6,280.0 139.0,297.0 141.4,284.0 144.0,295.0 147.0,280.0 149.6,258.6 151.0,280.0 152.4,304.0 153.6,320.0 156.0,317.0 158.0,324.0 160.4,308.0 162.4,324.0 164.0,323.6 167.0,322.0 170.0,306.0 171.4,298.0 173.0,306.0 174.4,314.0 176.0,319.0 179.0,324.0 182.0,337.0 184.4,320.0 186.0,312.0 187.0,300.0 188.0,276.0 190.6,265.0 192.0,280.0 193.6,300.0 194.4,307.0 196.0,300.0 197.6,276.0 199.0,260.0 201.0,267.0 204.0,241.0 205.6,256.0 207.0,268.0 209.4,268.6 211.0,252.0 212.4,239.6 215.0,241.6 216.4,248.0 217.6,256.0 219.0,272.0 220.0,286.0 221.0,294.0 222.4,284.0 223.6,274.0 226.4,258.6 228.0,270.0 229.6,280.0 232.0,294.0 235.0,300.0 236.4,308.0 237.6,318.0 238.0,320.0 240.0,342.0 242.4,343.0 244.0,320.0 244.4,300.0 246.0,280.0 248.0,258.0 251.0,241.6 252.4,250.0 254.0,259.0 257.0,262.0 259.0,268.0 262.0,278.0 265.0,281.0 267.6,276.0 269.0,284.0 270.6,292.0 272.0,306.0 273.6,320.0 275.0,336.0 278.0,346.0 281.0,336.0 283.6,320.0 285.0,308.0 285.6,300.0 287.0,280.0 288.4,264.0 290.0,250.0 292.4,229.0 294.4,230.0 295.6,240.0 296.6,250.0 297.2,270.0 298.0,295.0 301.0,302.0 303.0,312.0 305.6,296.0 307.0,292.0 309.0,307.0 311.6,299.0 314.0,298.0 317.0,309.0 319.6,288.0 321.0,276.0 323.0,256.0 324.4,240.0 325.0,232.0 326.4,250.0 327.6,266.0 331.0,242.0 333.0,218.0 334.4,230.0 335.6,240.0 338.0,256.0 341.6,236.0 343.0,226.0 345.0,223.0 347.0,221.0 349.4,238.0 352.0,225.0 354.6,219.0 356.0,236.0 357.0,250.0 358.0,263.0 360.0,252.0 362.0,276.0 364.0,292.0 366.0,296.0 368.4,288.0 370.0,270.0 371.4,242.0 373.0,270.0 375.0,284.0 376.6,298.0 378.2,282.0 380.0,266.0 381.6,282.0 383.0,294.0 384.6,278.0 386.4,259.0 387.4,249.0 388.4,230.0 389.0,226.0 390.6,198.0 392.0,230.0 393.0,250.0 394.4,270.0 395.6,277.0 397.0,250.0 398.0,230.0 399.0,220.0 401.4,196.0 404.0,200.0 407.0,185.6 409.4,223.0 412.4,189.6 415.0,220.0 416.6,240.0 417.6,250.0 419.0,280.0 421.0,292.0 423.0,280.0 426.0,273.0 429.0,278.0 431.0,264.0 432.4,250.0 435.0,249.0 437.0,245.0 439.0,230.0 440.4,229.0 442.4,225.0 445.0,250.0 446.4,248.0 448.0,242.0 450.0,230.0 451.0,220.0 454.0,187.6 456.6,220.0 459.0,240.0 460.0,250.0 461.0,248.0 463.0,256.0 465.0,263.0 467.0,254.0 469.0,242.0 471.0,238.0 473.6,231.0 476.0,229.0 478.0,234.0 480.0,216.0 481.6,190.0 483.6,162.0 486.4,156.4 488.4,170.0 490.0,200.0 491.6,220.0 493.0,234.0 494.4,243.0 497.0,236.0 499.0,220.0 500.4,214.0 502.0,198.0 505.0,197.0 507.0,210.0 508.4,204.0 510.0,202.0 512.0,210.0 514.0,214.0 514.4,200.0 515.0,150.0 516.6,135.6 519.0,154.0 521.6,160.0 524.4,139.0 526.0,160.0 527.0,180.0 528.0,210.0 530.0,219.0 532.0,210.0 534.0,190.0 536.0,170.0 537.0,166.0 539.0,146.0 541.0,124.4 543.6,131.0 546.0,150.0 548.0,164.0 549.6,171.0 552.0,166.0 553.6,140.0 555.0,120.0 556.4,146.0 558.0,172.0 559.0,180.0 560.0,173.0 562.4,166.0 565.0,146.0 568.0,126.0 571.0,112.0 574.0,103.6 575.0,120.0 576.0,146.0 577.0,170.0 578.4,180.0 579.6,188.0 581.0,162.0 582.0,159.0 585.0,158.6 586.4,170.0 587.6,180.0 588.4,196.0 590.6,212.4 593.0,208.0 594.4,197.0 596.0,190.0 597.6,170.0 599.0,160.0 601.6,146.0 603.6,160.0 605.6,164.0 607.0,156.0 608.4,172.0 609.4,180.0 610.0,187.0 611.0,193.0 613.0,194.0 614.0,174.0 615.0,156.0 617.6,143.6 619.6,160.0 621.0,174.0 622.0,173.0 624.0,180.0 627.0,188.0 629.6,198.0 631.0,193.0 632.4,192.0 634.0,202.0 636.4,209.0 639.0,212.0 641.6,208.0 643.6,195.0 645.6,188.0 647.6,199.0 650.0,204.0 653.0,210.0 655.6,204.0 658.0,201.0 660.4,196.0 663.0,191.0 664.4,189.0 665.6,170.0 666.4,150.0 667.0,149.6 668.6,166.0 669.6,180.0 670.2,189.0 671.0,170.0 672.4,154.0 675.0,150.0 677.6,151.0 680.0,157.0 681.0,160.0 682.4,140.0 684.0,110.0 686.4,85.6 689.0,93.0 691.0,120.0 692.0,140.0 694.0,126.0 697.0,84.0 699.0,104.0 700.4,123.0 703.0,107.0 704.0,140.0 705.0,180.0 705.6,186.0 707.0,202.0 708.4,214.0 710.6,204.0 713.6,217.0 716.0,206.0 718.0,180.0 719.0,162.0 720.4,160.0 722.0,140.0 724.4,123.0 725.6,150.0 726.6,170.0 727.4,172.0 729.0,190.0 731.0,206.0 733.0,218.0 734.0,210.0 735.0,204.0 736.4,190.0 738.0,161.0 739.6,194.0 740.4,204.0 741.4,212.0 743.6,210.0 745.0,192.0 747.0,186.0 748.0,176.0 749.4,163.0 750.0,190.0 751.0,210.0 751.6,212.0 753.0,200.0 754.0,188.0 755.0,176.0 756.4,150.0 757.6,130.0 759.0,140.0 760.4,170.0 761.6,194.0 762.4,210.0 763.0,226.0 765.6,227.0 768.0,212.0 770.0,200.0 773.0,201.0 777.0,204.0 779.0,192.0 781.0,188.0 782.4,181.0 783.6,190.0 786.0,164.0 789.0,136.0 791.0,123.0 793.0,117.0 794.4,132.0 795.6,170.0 797.0,196.0 798.0,210.0 798.4,220.0 799.0,255.0 803.0,260.0 806.6,268.0 809.0,260.0 811.0,246.0 813.0,226.0 815.0,210.0 817.0,200.0 818.0,192.0 819.0,202.0 820.0,220.0 821.0,240.0 823.0,234.0 825.0,239.0 827.0,220.0 828.4,212.0 831.0,216.0 833.0,223.0 835.0,240.0 837.0,268.0 838.2,246.0 839.0,240.0 842.2,218.4 843.4,224.0 845.0,231.0 847.4,225.6 850.0,232.0 851.4,238.0 852.4,230.0 853.4,216.0 855.0,205.0 856.0,204.4 859.0,208.0 861.0,210.0 864.0,201.0 868.0,208.0 872.0,206.0 877.0,212.0 879.6,200.0 881.0,196.0 883.6,196.0 885.0,216.0 886.0,236.0 887.0,244.0 889.0,246.0 891.0,264.0 892.6,274.0 894.4,287.0 895.6,274.0 896.6,264.0 898.0,250.0 899.6,240.0 902.0,226.0 905.0,222.0 908.0,218.0 909.4,230.0 911.0,240.0 912.4,246.0 914.0,255.0 915.6,240.0 917.6,220.0 919.0,208.0 920.4,220.0 922.0,232.0 924.0,246.0 927.0,274.0 930.0,271.0 933.0,268.0 934.0,260.0 935.4,255.6 938.2,255.6 938.8,240.0 939.6,220.0 940.4,204.0 941.0,193.6 943.0,200.0 946.0,211.0 948.0,218.0 949.6,226.0 950.6,240.0 952.0,260.0 953.6,274.0 954.4,280.0 956.0,300.0 957.0,320.0 958.0,330.0 960.0,342.0 963.0,356.0 965.6,366.0 967.0,350.0 968.4,330.0 969.6,310.0 970.4,304.0 972.0,294.0 972.4,290.0 973.6,285.6 975.0,298.0 976.0,310.0 976.4,310.0 978.0,320.0 979.6,327.0 982.0,327.0 983.4,310.0 984.4,300.0 986.0,302.0 987.6,316.0 990.4,314.0 992.0,310.0 994.0,316.0 996.0,327.0 998.6,338.0 1000.0,324.0 1001.0,316.0 1003.0,310.0 1004.0,310.0 1005.6,280.0 1006.6,250.0 1006.6,0 78.4,0" fill="#2d74b0"/></g>
<polyline points="78.4,251.0 81.0,260.0 84.0,270.0 86.0,274.0 89.0,290.0 91.0,270.0 93.0,250.0 94.6,241.0 97.0,246.0 99.0,262.0 102.0,276.0 105.0,286.0 107.0,289.0 109.0,284.0 111.0,295.0 114.0,285.0 117.0,283.0 119.6,278.0 122.0,290.0 124.0,293.0 127.0,289.0 130.0,296.0 132.0,290.0 134.0,282.0 136.0,288.0 138.0,270.0 141.0,273.0 144.0,273.6 147.0,280.0 149.0,278.0 151.0,266.0 153.0,261.0 155.0,263.0 158.0,266.0 161.0,254.0 163.0,262.0 166.0,274.0 168.4,260.0 171.0,276.0 174.0,292.0 177.0,279.0 179.6,294.0 182.0,278.0 185.0,273.0 188.0,286.0 191.0,284.0 194.0,274.0 197.0,263.0 200.0,266.0 202.0,269.0 204.4,257.0 207.0,280.0 210.0,273.0 212.4,281.0 215.0,262.0 218.0,274.0 220.0,266.0 223.0,269.0 226.0,266.0 228.6,259.0 231.6,280.0 234.4,271.0 237.0,282.0 239.6,270.0 242.4,269.0 246.0,267.0 249.0,274.0 252.0,271.0 255.0,270.0 257.0,275.0 259.0,256.0 261.6,244.0 264.0,240.0 267.0,246.0 270.0,255.0 273.0,257.0 275.4,270.0 278.0,244.0 280.4,239.0 283.6,245.0 286.0,239.0 289.0,237.0 292.0,229.0 296.0,246.0 299.6,241.0 301.0,250.0 303.0,263.0 305.0,248.0 308.0,252.0 311.0,248.0 313.6,242.0 316.0,225.0 320.0,229.0 322.0,230.0 325.0,220.0 327.0,226.0 328.4,238.0 330.6,254.0 332.4,250.0 335.0,230.0 338.0,202.0 341.0,190.0 343.0,202.0 344.4,217.0 346.6,212.0 349.0,218.0 351.0,234.0 353.0,230.0 355.0,238.0 357.0,216.0 360.0,196.4 362.4,204.0 364.4,216.0 366.0,225.0 368.4,217.0 371.0,216.0 374.0,214.0 377.0,227.0 379.6,216.0 382.0,212.0 385.0,234.0 388.0,212.0 390.0,210.0 393.0,216.0 396.0,210.0 398.0,218.0 401.0,241.0 404.0,236.0 407.0,224.0 410.0,210.0 412.4,199.0 415.0,198.0 418.0,202.0 421.0,198.0 423.6,209.0 427.0,196.0 430.0,186.0 434.0,172.6 437.0,185.0 440.0,190.0 443.0,217.0 446.0,214.0 448.6,209.0 451.0,213.0 454.0,208.0 457.0,203.0 459.6,202.4 462.0,193.0 464.4,188.0 467.0,191.0 470.0,176.0 472.4,163.0 475.0,176.0 478.0,193.0 481.0,189.0 483.6,186.0 486.0,184.0 489.0,179.0 491.0,170.0 494.0,165.0 497.0,184.0 499.6,188.0 502.4,176.0 505.6,169.0 508.4,186.0 511.0,178.0 514.0,174.0 516.0,180.0 518.4,184.0 520.0,166.0 522.0,160.0 524.4,150.0 527.0,152.0 530.0,172.0 533.0,149.0 536.0,155.0 538.0,150.0 541.0,168.0 543.0,156.0 546.0,154.0 549.0,163.0 552.0,150.0 555.0,155.0 558.0,172.0 560.0,140.0 561.6,120.0 563.0,117.0 564.4,132.0 566.0,154.0 568.0,150.0 571.0,140.0 573.6,137.0 576.0,154.0 579.0,167.0 582.0,150.0 584.0,142.0 587.0,139.0 589.0,146.0 590.6,164.0 592.4,148.0 594.0,154.0 596.0,170.0 598.0,154.0 601.0,146.0 603.6,139.0 605.6,158.0 608.0,146.0 610.0,144.0 612.0,164.0 614.0,140.0 615.6,123.0 618.0,118.0 620.4,112.0 622.0,130.0 623.6,146.0 625.6,138.0 627.6,140.0 629.4,148.0 631.4,128.0 633.0,144.0 634.4,155.0 636.6,126.0 639.0,142.0 641.0,150.0 644.0,149.0 647.0,152.0 651.0,154.4 653.6,152.0 655.0,136.0 656.4,126.0 659.0,134.0 662.0,138.0 664.4,142.0 667.0,156.0 669.0,155.0 672.4,154.0 675.0,166.0 677.0,146.0 680.0,134.0 682.0,126.0 685.0,118.0 688.0,121.0 690.0,136.0 691.6,152.0 694.0,142.0 697.0,136.0 699.6,142.0 702.0,148.0 704.0,130.0 705.6,116.0 708.0,122.0 711.0,116.0 713.6,112.0 716.4,134.0 719.0,126.0 721.6,117.4 724.0,130.0 727.2,123.4 730.0,146.0 733.0,123.4 735.4,150.0 736.4,152.0 739.0,154.0 741.0,158.0 743.6,154.0 746.0,164.0 749.0,172.0 751.0,148.0 753.0,141.0 756.0,140.0 759.0,139.0 763.0,131.0 767.0,137.0 770.0,148.0 774.0,158.0 777.0,151.0 780.0,153.0 783.0,160.0 785.0,168.0 787.6,157.0 790.0,170.0 794.0,171.0 798.0,172.0 800.4,162.0 803.0,170.0 806.0,162.0 809.0,172.0 812.0,183.0 815.0,163.0 818.0,179.0 821.0,176.0 823.0,173.0 826.0,176.0 828.6,161.0 831.6,186.0 834.0,181.0 837.0,165.0 840.0,178.0 843.0,179.0 845.6,174.0 848.0,186.0 851.0,194.0 853.6,195.0 856.4,189.0 859.0,177.0 861.4,197.0 864.0,184.0 867.0,176.0 870.0,167.0 873.0,166.0 875.6,180.0 878.4,192.0 881.0,196.0 883.6,199.0 886.0,208.0 889.0,210.0 891.6,200.0 894.4,201.0 898.0,204.0 902.0,206.0 905.0,209.0 908.0,212.0 910.0,219.0 913.0,206.0 915.0,215.0 917.0,227.0 919.0,235.0 922.0,226.0 925.0,216.0 928.0,217.0 931.0,230.0 933.0,241.0 936.0,234.0 938.0,231.0 941.0,222.0 944.0,216.0 947.0,220.0 950.0,236.0 952.0,238.0 954.0,230.0 955.0,252.0 957.0,255.0 960.0,240.0 963.0,233.0 965.6,242.0 968.0,257.0 971.0,239.0 973.6,250.0 976.4,255.0 979.0,266.0 982.0,275.0 985.0,267.0 987.6,265.0 990.4,262.0 993.0,278.0 996.0,280.0 999.0,287.0 1001.6,282.0 1004.0,265.0 1006.6,264.0 1009.0,256.0 1011.6,274.0 1014.4,283.0 1017.4,277.0 1020.0,283.0 1023.0,290.0 1026.0,270.0 1028.4,269.0 1032.0,253.0 1035.0,264.0 1037.0,273.0 1039.6,281.0 1042.4,252.0 1045.0,270.0 1047.6,272.0 1050.4,274.0 1053.0,268.0 1056.0,266.0 1058.4,259.0 1061.6,277.0 1064.4,263.0 1067.0,267.0 1069.6,256.0 1072.0,258.0 1075.4,269.0" fill="none" stroke="#ff0000" stroke-width="0.75" stroke-dasharray="2.57,1.11"/>
<polyline points="78.4,362.0 81.0,359.0 83.6,374.0 86.0,363.0 89.0,371.0 91.6,372.0 94.4,384.0 98.0,382.0 101.0,382.0 104.0,370.0 107.0,358.0 109.0,352.0 112.0,349.0 115.0,345.0 118.0,343.0 121.0,345.0 123.0,354.0 125.0,368.0 129.0,370.0 133.0,376.0 136.0,370.0 139.0,366.0 141.6,374.4 145.0,373.0 147.0,372.0 149.6,360.0 152.4,354.0 155.0,357.0 157.6,357.0 160.0,359.0 163.0,359.0 166.0,365.0 169.0,370.0 171.4,378.0 174.0,363.0 177.0,366.0 179.6,379.0 183.0,372.0 185.6,366.0 188.0,365.0 191.0,382.0 193.6,392.0 196.0,370.0 199.0,352.0 202.0,355.0 206.0,351.0 209.0,347.0 212.4,338.0 215.0,336.0 218.0,337.0 221.0,348.0 223.6,366.0 226.0,345.0 229.0,349.0 231.6,362.0 234.4,375.0 237.0,362.0 239.6,346.0 242.4,342.0 246.0,337.0 249.0,338.0 251.6,333.0 254.0,337.0 256.4,345.0 259.0,334.0 262.0,332.0 265.0,330.0 268.0,329.0 270.6,327.0 274.0,330.0 278.0,328.0 281.0,319.0 285.0,326.0 288.0,326.0 291.0,332.0 294.0,333.0 295.0,330.0 302.0,326.0 307.0,320.0 310.0,314.0 314.0,308.0 317.0,304.0 320.0,312.0 323.0,320.0 325.6,329.0 327.0,314.0 330.0,318.0 334.0,318.0 338.0,316.0 341.0,310.0 344.0,308.0 348.0,307.0 351.0,312.0 352.6,318.0 355.0,309.0 358.0,306.0 360.4,302.0 363.0,311.0 365.6,311.0 369.0,306.0 372.0,301.0 375.0,307.0 377.0,309.0 380.0,298.0 382.4,288.0 385.0,292.0 388.0,288.0 390.0,304.0 392.0,301.0 394.0,309.0 397.0,308.0 400.0,304.0 404.0,301.0 408.0,303.0 411.0,302.0 414.0,298.0 417.0,294.0 420.0,282.0 422.0,273.0 425.0,269.0 428.0,262.0 430.0,268.0 433.0,280.0 436.0,290.0 438.4,297.0 441.0,284.0 442.6,278.0 445.0,292.0 448.0,289.0 451.0,287.0 454.0,295.0 457.0,288.0 459.6,286.0 462.0,295.0 465.0,288.0 468.0,280.0 471.0,273.0 474.0,276.0 477.0,266.0 479.0,264.0 481.0,277.0 483.6,262.0 486.0,254.0 488.0,258.0 490.0,266.0 492.4,252.0 495.0,244.0 498.0,250.0 500.0,263.0 502.4,252.0 505.0,248.0 508.0,238.0 511.0,260.0 514.0,254.0 516.0,246.0 519.0,243.0 522.0,248.0 526.0,250.0 530.0,246.0 533.0,243.0 535.6,239.0 538.0,246.0 541.0,249.0 544.0,244.0 547.0,238.0 550.0,234.0 552.4,248.0 555.0,236.0 558.0,232.0 561.0,232.0 563.6,238.0 566.0,225.0 568.4,238.0 571.0,244.0 572.6,248.0 574.4,230.0 577.0,232.0 580.0,224.0 583.0,214.0 585.0,209.0 587.6,224.0 590.6,232.0 593.6,224.0 596.0,214.0 598.0,223.0 601.0,216.0 603.0,228.0 605.6,232.0 609.0,226.0 612.0,221.0 615.0,220.0 618.0,221.0 620.4,208.0 622.4,196.0 624.0,191.0 625.6,204.0 628.0,222.0 631.0,230.0 633.6,220.0 636.0,217.0 639.0,224.0 642.0,212.0 644.4,216.0 647.0,204.0 650.0,208.0 653.0,219.0 655.0,222.0 658.0,217.0 661.0,209.0 664.0,207.0 667.0,208.0 670.0,208.0 673.0,216.0 675.6,222.0 678.0,230.0 681.0,222.0 684.0,214.0 687.0,219.0 689.6,220.0 692.0,225.0 694.4,214.0 697.0,219.0 699.6,216.0 702.0,214.0 705.0,220.0 707.6,214.0 710.0,207.0 713.0,210.0 716.0,209.0 719.0,206.0 722.0,212.0 725.0,209.0 728.0,219.0 731.0,217.0 734.0,214.0 737.0,220.0 739.6,230.0 743.0,232.0 746.0,229.0 749.0,226.0 751.6,227.0 754.0,233.0 757.0,234.0 760.0,233.0 763.0,232.0 765.6,232.0 768.0,236.0 771.0,218.0 774.0,220.0 777.0,232.0 780.0,246.0 782.4,250.0 785.0,258.0 788.0,252.0 791.0,251.0 794.0,249.0 797.0,248.0 799.0,233.0 801.0,227.0 803.0,235.0 805.0,248.0 807.0,253.0 810.0,250.0 813.0,256.0 816.0,256.0 819.0,259.0 820.4,264.0 823.0,255.0 825.6,253.0 828.0,255.0 831.0,253.0 834.0,256.0 837.0,259.0 839.6,250.0 842.0,254.0 845.0,256.0 848.0,253.0 851.0,258.0 853.0,266.0 856.0,279.0 858.0,270.0 861.0,276.0 863.0,292.0 866.0,304.0 869.0,306.0 872.0,292.0 875.0,285.0 878.0,283.0 881.0,286.0 883.0,289.0 885.6,274.0 888.0,268.0 891.0,265.0 894.0,264.0 896.0,288.0 898.0,296.0 900.0,295.0 902.4,313.0 905.0,304.0 908.0,292.0 911.0,284.0 913.6,275.0 915.6,296.0 917.0,305.0 919.0,302.0 921.6,318.0 925.0,312.0 928.0,323.0 930.0,332.0 933.0,320.0 936.0,308.0 939.0,300.0 941.0,298.0 944.0,310.0 947.0,324.0 950.0,333.0 954.0,330.0 957.0,316.0 959.0,319.0 961.0,328.0 963.0,322.0 965.0,315.0 967.0,322.0 969.0,336.0 973.0,338.0 976.0,333.0 978.0,340.0 980.0,352.0 982.4,361.0 985.0,360.0 987.6,358.0 990.0,351.0 992.0,364.0 994.4,370.0 998.0,367.0 1000.4,358.0 1003.0,344.0 1004.4,338.0 1007.0,352.0 1009.6,340.0 1012.0,333.0 1014.4,340.0 1017.4,350.0 1020.0,360.0 1023.0,344.0 1026.0,360.0 1028.4,345.0 1030.4,358.0 1032.6,365.0 1036.0,359.0 1039.0,352.0 1042.0,345.0 1045.0,343.0 1048.0,330.0 1050.4,317.0 1053.0,328.0 1056.0,340.0 1059.0,343.0 1061.6,352.0 1064.4,342.0 1067.0,338.0 1069.6,344.0 1072.0,348.0 1075.4,354.0" fill="none" stroke="#add8e6" stroke-width="1.4" stroke-dasharray="5.14,2.22"/>
<polyline points="78.4,321.6 83.0,321.0 87.0,319.0 90.0,324.0 94.0,328.0 98.0,326.0 102.0,323.6 106.0,325.0 110.0,331.0 113.0,320.0 115.0,311.6 117.0,316.0 119.0,311.0 121.6,322.0 124.0,328.0 126.0,326.0 128.0,335.0 130.0,332.0 133.0,343.0 135.0,328.0 137.0,321.0 139.0,325.0 142.0,323.0 145.0,324.0 147.0,323.6 150.0,329.0 153.0,322.0 156.0,317.0 158.0,324.0 160.4,308.0 162.4,324.0 164.0,335.0 166.0,334.0 168.4,336.0 171.0,324.0 174.0,314.0 176.0,319.0 179.0,322.0 182.0,317.0 185.0,314.0 188.0,319.0 190.6,326.0 193.0,315.0 196.0,302.0 198.0,310.0 200.0,306.0 202.0,303.0 205.0,307.0 208.0,309.0 211.0,308.0 214.0,304.0 217.0,303.0 219.0,301.0 221.0,295.0 223.0,300.0 225.6,310.0 228.0,303.0 230.0,306.0 232.4,313.0 235.0,316.0 238.0,308.0 240.0,300.0 242.4,293.0 244.4,300.0 246.4,310.0 248.6,322.0 251.0,308.0 253.0,311.0 256.0,306.0 258.0,292.0 260.0,290.0 263.0,285.0 265.0,284.0 267.0,286.0 270.0,284.0 272.0,289.0 275.0,291.0 278.0,288.0 280.0,280.0 282.0,279.0 284.4,284.0 286.0,289.0 289.0,287.0 292.0,285.0 294.0,289.0 298.0,295.0 301.0,290.0 303.6,285.0 306.0,289.0 309.0,284.0 312.0,283.0 314.0,270.0 316.6,256.0 319.0,277.0 322.0,267.0 325.0,298.0 328.0,289.0 331.0,289.0 333.0,295.0 337.0,284.0 340.0,278.0 344.0,275.0 347.0,268.0 350.0,261.0 353.0,274.0 355.0,281.0 358.0,263.0 360.0,249.0 363.0,246.0 365.6,263.0 368.0,264.0 371.0,270.0 374.0,284.0 376.6,262.0 380.0,259.0 383.0,257.0 386.0,256.0 388.0,249.0 391.0,257.0 394.0,270.0 396.0,278.0 399.0,273.0 403.0,266.0 406.0,271.0 410.0,272.0 414.0,266.0 416.0,254.0 417.0,236.0 420.0,231.6 423.0,232.4 426.0,235.0 428.0,239.0 430.0,230.0 432.0,215.0 433.4,230.0 435.0,241.0 437.0,243.0 438.4,246.0 440.0,266.0 443.0,260.0 446.0,263.0 450.0,262.0 453.0,252.0 455.0,250.0 458.0,254.0 461.0,242.0 462.0,236.0 465.0,229.0 468.0,238.0 470.0,246.0 473.0,242.0 476.0,238.0 479.0,236.0 481.0,232.0 483.0,220.0 485.0,218.0 487.0,221.0 489.0,214.0 491.0,202.0 493.0,193.0 494.4,191.0 496.0,198.0 498.0,214.0 501.0,214.0 503.0,213.0 505.6,220.0 508.0,210.0 510.0,198.0 512.0,195.0 514.0,198.0 517.0,221.0 519.0,218.0 522.0,204.0 524.4,223.0 527.0,212.0 530.0,218.0 532.4,219.0 535.0,214.0 538.0,205.0 541.0,212.0 544.0,206.0 547.0,197.0 550.0,204.0 552.4,212.0 555.0,200.0 558.0,188.0 560.0,173.0 562.0,187.0 565.0,190.0 568.0,198.0 571.0,212.0 574.0,200.0 577.0,194.0 580.0,190.0 583.0,187.0 586.0,187.0 589.0,193.0 592.0,193.0 594.0,196.0 597.0,189.0 600.0,183.0 603.0,192.0 606.0,190.0 609.0,187.0 612.0,189.0 615.0,191.0 618.0,187.0 621.0,172.0 623.0,164.0 625.0,174.0 628.0,183.0 630.0,196.0 631.6,180.0 633.0,190.0 634.4,179.0 637.0,189.0 639.6,190.0 642.0,186.0 645.0,180.0 647.6,177.0 650.0,185.0 653.0,192.0 656.0,186.0 659.0,182.0 661.6,172.0 664.0,186.0 667.0,186.0 670.0,186.0 673.0,185.0 676.0,188.0 679.0,189.0 682.0,184.0 685.0,182.0 687.0,170.0 689.0,172.0 691.0,182.0 694.0,187.0 697.0,185.0 700.0,183.0 703.0,180.0 705.6,186.0 708.0,194.0 710.0,170.0 712.0,161.0 714.0,159.0 716.0,165.0 719.0,169.0 721.0,193.0 723.6,172.0 726.0,170.0 729.0,168.0 732.0,166.0 734.0,168.0 734.3,190.0 736.0,198.0 739.0,194.0 741.0,199.0 743.6,188.0 746.4,184.0 749.0,191.0 752.0,189.0 755.0,184.0 757.0,190.0 759.6,196.0 762.0,176.0 764.0,186.0 767.0,194.0 769.0,193.0 771.0,186.0 774.0,186.0 777.0,192.0 780.0,190.0 782.0,183.0 784.0,196.0 785.6,210.0 787.0,222.0 789.0,225.0 792.0,225.0 795.0,218.0 797.0,208.0 800.0,206.0 802.0,209.0 804.0,191.0 806.4,200.0 809.0,206.0 811.6,214.0 814.0,208.0 816.4,205.0 819.0,206.0 821.0,204.0 823.0,216.0 825.6,218.0 828.0,213.0 830.0,216.0 832.0,220.0 834.4,212.0 837.0,205.0 840.0,223.0 842.0,234.0 844.0,232.0 846.4,227.0 849.0,225.0 851.0,224.0 853.4,215.0 856.0,228.0 859.0,246.0 861.0,234.0 863.6,236.0 866.0,226.0 868.0,220.0 870.0,218.0 872.4,228.0 875.0,230.0 877.6,246.0 880.4,263.0 883.0,261.0 885.6,248.0 888.0,240.0 890.6,228.0 893.0,226.0 895.0,230.0 898.0,242.0 901.0,243.0 904.0,242.0 907.0,244.0 909.0,242.0 911.0,231.0 913.0,240.0 915.0,248.0 917.0,256.0 919.0,266.0 921.0,278.0 922.4,283.0 924.0,280.0 927.0,288.6 930.0,285.6 933.0,284.4 936.0,274.0 938.0,270.6 941.0,264.0 944.0,268.0 947.0,270.0 950.0,273.0 954.0,279.0 956.0,282.0 958.0,288.0 960.0,285.0 963.0,283.0 965.0,296.0 968.0,299.0 970.4,306.0 973.0,302.0 976.0,304.0 979.0,306.0 982.0,306.0 985.0,299.0 988.0,299.0 990.4,301.0 993.0,310.0 995.0,318.0 997.0,326.0 999.0,322.0 1001.0,316.0 1004.0,316.0 1007.0,300.0 1009.4,293.0 1012.0,308.0 1015.0,320.0 1017.6,310.0 1020.0,310.0 1023.0,314.0 1026.0,305.0 1029.0,307.0 1032.0,304.0 1034.4,304.0 1037.0,315.0 1039.6,300.0 1042.0,311.0 1045.0,306.0 1047.6,302.0 1050.0,292.0 1053.0,295.0 1056.0,285.0 1059.0,312.0 1062.0,311.0 1067.0,318.0 1069.6,288.0 1072.0,302.0 1075.4,310.0" fill="none" stroke="#000" stroke-width="2.8" stroke-linejoin="round" stroke-linecap="round"/>
<polyline points="78.4,322.0 81.0,340.0 83.6,320.0 85.0,290.0 86.4,262.6 89.0,265.6 90.0,278.0 92.0,300.0 94.4,320.0 95.0,327.0 95.6,320.0 96.0,300.0 97.4,249.0 98.6,260.0 100.0,275.6 103.0,266.0 105.0,276.0 106.4,290.0 107.2,320.0 108.0,336.0 111.0,361.0 113.6,346.0 116.4,357.0 119.0,330.0 121.0,322.0 122.4,332.0 125.0,354.0 128.0,338.0 129.2,322.0 129.6,316.0 131.0,298.0 133.6,282.0 136.0,260.6 137.6,280.0 139.0,297.0 141.4,284.0 144.0,295.0 147.0,280.0 149.6,258.6 151.0,280.0 152.4,304.0 153.6,320.0 156.0,317.0 158.0,324.0 160.4,308.0 162.4,324.0 164.0,323.6 167.0,322.0 170.0,306.0 171.4,298.0 173.0,306.0 174.4,314.0 176.0,319.0 179.0,324.0 182.0,337.0 184.4,320.0 186.0,312.0 187.0,300.0 188.0,276.0 190.6,265.0 192.0,280.0 193.6,300.0 194.4,307.0 196.0,300.0 197.6,276.0 199.0,260.0 201.0,267.0 204.0,241.0 205.6,256.0 207.0,268.0 209.4,268.6 211.0,252.0 212.4,239.6 215.0,241.6 216.4,248.0 217.6,256.0 219.0,272.0 220.0,286.0 221.0,294.0 222.4,284.0 223.6,274.0 226.4,258.6 228.0,270.0 229.6,280.0 232.0,294.0 235.0,300.0 236.4,308.0 237.6,318.0 238.0,320.0 240.0,342.0 242.4,343.0 244.0,320.0 244.4,300.0 246.0,280.0 248.0,258.0 251.0,241.6 252.4,250.0 254.0,259.0 257.0,262.0 259.0,268.0 262.0,278.0 265.0,281.0 267.6,276.0 269.0,284.0 270.6,292.0 272.0,306.0 273.6,320.0 275.0,336.0 278.0,346.0 281.0,336.0 283.6,320.0 285.0,308.0 285.6,300.0 287.0,280.0 288.4,264.0 290.0,250.0 292.4,229.0 294.4,230.0 295.6,240.0 296.6,250.0 297.2,270.0 298.0,295.0 301.0,302.0 303.0,312.0 305.6,296.0 307.0,292.0 309.0,307.0 311.6,299.0 314.0,298.0 317.0,309.0 319.6,288.0 321.0,276.0 323.0,256.0 324.4,240.0 325.0,232.0 326.4,250.0 327.6,266.0 331.0,242.0 333.0,218.0 334.4,230.0 335.6,240.0 338.0,256.0 341.6,236.0 343.0,226.0 345.0,223.0 347.0,221.0 349.4,238.0 352.0,225.0 354.6,219.0 356.0,236.0 357.0,250.0 358.0,263.0 360.0,252.0 362.0,276.0 364.0,292.0 366.0,296.0 368.4,288.0 370.0,270.0 371.4,242.0 373.0,270.0 375.0,284.0 376.6,298.0 378.2,282.0 380.0,266.0 381.6,282.0 383.0,294.0 384.6,278.0 386.4,259.0 387.4,249.0 388.4,230.0 389.0,226.0 390.6,198.0 392.0,230.0 393.0,250.0 394.4,270.0 395.6,277.0 397.0,250.0 398.0,230.0 399.0,220.0 401.4,196.0 404.0,200.0 407.0,185.6 409.4,223.0 412.4,189.6 415.0,220.0 416.6,240.0 417.6,250.0 419.0,280.0 421.0,292.0 423.0,280.0 426.0,273.0 429.0,278.0 431.0,264.0 432.4,250.0 435.0,249.0 437.0,245.0 439.0,230.0 440.4,229.0 442.4,225.0 445.0,250.0 446.4,248.0 448.0,242.0 450.0,230.0 451.0,220.0 454.0,187.6 456.6,220.0 459.0,240.0 460.0,250.0 461.0,248.0 463.0,256.0 465.0,263.0 467.0,254.0 469.0,242.0 471.0,238.0 473.6,231.0 476.0,229.0 478.0,234.0 480.0,216.0 481.6,190.0 483.6,162.0 486.4,156.4 488.4,170.0 490.0,200.0 491.6,220.0 493.0,234.0 494.4,243.0 497.0,236.0 499.0,220.0 500.4,214.0 502.0,198.0 505.0,197.0 507.0,210.0 508.4,204.0 510.0,202.0 512.0,210.0 514.0,214.0 514.4,200.0 515.0,150.0 516.6,135.6 519.0,154.0 521.6,160.0 524.4,139.0 526.0,160.0 527.0,180.0 528.0,210.0 530.0,219.0 532.0,210.0 534.0,190.0 536.0,170.0 537.0,166.0 539.0,146.0 541.0,124.4 543.6,131.0 546.0,150.0 548.0,164.0 549.6,171.0 552.0,166.0 553.6,140.0 555.0,120.0 556.4,146.0 558.0,172.0 559.0,180.0 560.0,173.0 562.4,166.0 565.0,146.0 568.0,126.0 571.0,112.0 574.0,103.6 575.0,120.0 576.0,146.0 577.0,170.0 578.4,180.0 579.6,188.0 581.0,162.0 582.0,159.0 585.0,158.6 586.4,170.0 587.6,180.0 588.4,196.0 590.6,212.4 593.0,208.0 594.4,197.0 596.0,190.0 597.6,170.0 599.0,160.0 601.6,146.0 603.6,160.0 605.6,164.0 607.0,156.0 608.4,172.0 609.4,180.0 610.0,187.0 611.0,193.0 613.0,194.0 614.0,174.0 615.0,156.0 617.6,143.6 619.6,160.0 621.0,174.0 622.0,173.0 624.0,180.0 627.0,188.0 629.6,198.0 631.0,193.0 632.4,192.0 634.0,202.0 636.4,209.0 639.0,212.0 641.6,208.0 643.6,195.0 645.6,188.0 647.6,199.0 650.0,204.0 653.0,210.0 655.6,204.0 658.0,201.0 660.4,196.0 663.0,191.0 664.4,189.0 665.6,170.0 666.4,150.0 667.0,149.6 668.6,166.0 669.6,180.0 670.2,189.0 671.0,170.0 672.4,154.0 675.0,150.0 677.6,151.0 680.0,157.0 681.0,160.0 682.4,140.0 684.0,110.0 686.4,85.6 689.0,93.0 691.0,120.0 692.0,140.0 694.0,126.0 697.0,84.0 699.0,104.0 700.4,123.0 703.0,107.0 704.0,140.0 705.0,180.0 705.6,186.0 707.0,202.0 708.4,214.0 710.6,204.0 713.6,217.0 716.0,206.0 718.0,180.0 719.0,162.0 720.4,160.0 722.0,140.0 724.4,123.0 725.6,150.0 726.6,170.0 727.4,172.0 729.0,190.0 731.0,206.0 733.0,218.0 734.0,210.0 735.0,204.0 736.4,190.0 738.0,161.0 739.6,194.0 740.4,204.0 741.4,212.0 743.6,210.0 745.0,192.0 747.0,186.0 748.0,176.0 749.4,163.0 750.0,190.0 751.0,210.0 751.6,212.0 753.0,200.0 754.0,188.0 755.0,176.0 756.4,150.0 757.6,130.0 759.0,140.0 760.4,170.0 761.6,194.0 762.4,210.0 763.0,226.0 765.6,227.0 768.0,212.0 770.0,200.0 773.0,201.0 777.0,204.0 779.0,192.0 781.0,188.0 782.4,181.0 783.6,190.0 786.0,164.0 789.0,136.0 791.0,123.0 793.0,117.0 794.4,132.0 795.6,170.0 797.0,196.0 798.0,210.0 798.4,220.0 799.0,255.0 803.0,260.0 806.6,268.0 809.0,260.0 811.0,246.0 813.0,226.0 815.0,210.0 817.0,200.0 818.0,192.0 819.0,202.0 820.0,220.0 821.0,240.0 823.0,234.0 825.0,239.0 827.0,220.0 828.4,212.0 831.0,216.0 833.0,223.0 835.0,240.0 837.0,268.0 838.2,246.0 839.0,240.0 842.2,218.4 843.4,224.0 845.0,231.0 847.4,225.6 850.0,232.0 851.4,238.0 852.4,230.0 853.4,216.0 855.0,205.0 856.0,204.4 859.0,208.0 861.0,210.0 864.0,201.0 868.0,208.0 872.0,206.0 877.0,212.0 879.6,200.0 881.0,196.0 883.6,196.0 885.0,216.0 886.0,236.0 887.0,244.0 889.0,246.0 891.0,264.0 892.6,274.0 894.4,287.0 895.6,274.0 896.6,264.0 898.0,250.0 899.6,240.0 902.0,226.0 905.0,222.0 908.0,218.0 909.4,230.0 911.0,240.0 912.4,246.0 914.0,255.0 915.6,240.0 917.6,220.0 919.0,208.0 920.4,220.0 922.0,232.0 924.0,246.0 927.0,274.0 930.0,271.0 933.0,268.0 934.0,260.0 935.4,255.6 938.2,255.6 938.8,240.0 939.6,220.0 940.4,204.0 941.0,193.6 943.0,200.0 946.0,211.0 948.0,218.0 949.6,226.0 950.6,240.0 952.0,260.0 953.6,274.0 954.4,280.0 956.0,300.0 957.0,320.0 958.0,330.0 960.0,342.0 963.0,356.0 965.6,366.0 967.0,350.0 968.4,330.0 969.6,310.0 970.4,304.0 972.0,294.0 972.4,290.0 973.6,285.6 975.0,298.0 976.0,310.0 976.4,310.0 978.0,320.0 979.6,327.0 982.0,327.0 983.4,310.0 984.4,300.0 986.0,302.0 987.6,316.0 990.4,314.0 992.0,310.0 994.0,316.0 996.0,327.0 998.6,338.0 1000.0,324.0 1001.0,316.0 1003.0,310.0 1004.0,310.0 1005.6,280.0 1006.6,250.0" fill="none" stroke="#000" stroke-width="1.15" stroke-linejoin="round"/>
</g>
<rect x="78.5" y="60.5" width="997.0" height="385.0" fill="none" stroke="#000" stroke-width="1"/>
<line x1="78.5" y1="445.5" x2="78.5" y2="450.5" stroke="#000" stroke-width="1"/>
<line x1="163.5" y1="445.5" x2="163.5" y2="450.5" stroke="#000" stroke-width="1"/>
<line x1="240.5" y1="445.5" x2="240.5" y2="450.5" stroke="#000" stroke-width="1"/>
<line x1="325.5" y1="445.5" x2="325.5" y2="450.5" stroke="#000" stroke-width="1"/>
<line x1="407.5" y1="445.5" x2="407.5" y2="450.5" stroke="#000" stroke-width="1"/>
<line x1="492.5" y1="445.5" x2="492.5" y2="450.5" stroke="#000" stroke-width="1"/>
<line x1="574.5" y1="445.5" x2="574.5" y2="450.5" stroke="#000" stroke-width="1"/>
<line x1="659.5" y1="445.5" x2="659.5" y2="450.5" stroke="#000" stroke-width="1"/>
<line x1="744.5" y1="445.5" x2="744.5" y2="450.5" stroke="#000" stroke-width="1"/>
<line x1="826.5" y1="445.5" x2="826.5" y2="450.5" stroke="#000" stroke-width="1"/>
<line x1="911.5" y1="445.5" x2="911.5" y2="450.5" stroke="#000" stroke-width="1"/>
<line x1="993.5" y1="445.5" x2="993.5" y2="450.5" stroke="#000" stroke-width="1"/>
<line x1="73.5" y1="398.5" x2="78.5" y2="398.5" stroke="#000" stroke-width="1"/>
<line x1="73.5" y1="346.5" x2="78.5" y2="346.5" stroke="#000" stroke-width="1"/>
<line x1="73.5" y1="294.5" x2="78.5" y2="294.5" stroke="#000" stroke-width="1"/>
<line x1="73.5" y1="242.5" x2="78.5" y2="242.5" stroke="#000" stroke-width="1"/>
<line x1="73.5" y1="190.5" x2="78.5" y2="190.5" stroke="#000" stroke-width="1"/>
<line x1="73.5" y1="138.5" x2="78.5" y2="138.5" stroke="#000" stroke-width="1"/>
<line x1="73.5" y1="86.5" x2="78.5" y2="86.5" stroke="#000" stroke-width="1"/>
<text x="64.2" y="468.9" font-size="17.3" fill="#000" text-anchor="start" textLength="28.7" lengthAdjust="spacingAndGlyphs">Ene</text>
<text x="149.1" y="468.9" font-size="17.3" fill="#000" text-anchor="start" textLength="28.7" lengthAdjust="spacingAndGlyphs">Feb</text>
<text x="225.2" y="468.9" font-size="17.3" fill="#000" text-anchor="start" textLength="29.8" lengthAdjust="spacingAndGlyphs">Mar</text>
<text x="311.2" y="468.9" font-size="17.3" fill="#000" text-anchor="start" textLength="27.7" lengthAdjust="spacingAndGlyphs">Abr</text>
<text x="391.0" y="468.9" font-size="17.3" fill="#000" text-anchor="start" textLength="32.3" lengthAdjust="spacingAndGlyphs">May</text>
<text x="479.6" y="468.9" font-size="17.3" fill="#000" text-anchor="start" textLength="25" lengthAdjust="spacingAndGlyphs">Jun</text>
<text x="564.5" y="468.9" font-size="17.3" fill="#000" text-anchor="start" textLength="19.5" lengthAdjust="spacingAndGlyphs">Jul</text>
<text x="643.7" y="468.9" font-size="17.3" fill="#000" text-anchor="start" textLength="31" lengthAdjust="spacingAndGlyphs">Ago</text>
<text x="729.1" y="468.9" font-size="17.3" fill="#000" text-anchor="start" textLength="30" lengthAdjust="spacingAndGlyphs">Sep</text>
<text x="812.8" y="468.9" font-size="17.3" fill="#000" text-anchor="start" textLength="27" lengthAdjust="spacingAndGlyphs">Oct</text>
<text x="895.9" y="468.9" font-size="17.3" fill="#000" text-anchor="start" textLength="30.5" lengthAdjust="spacingAndGlyphs">Nov</text>
<text x="981.4" y="468.9" font-size="17.3" fill="#000" text-anchor="start" textLength="23.8" lengthAdjust="spacingAndGlyphs">Dic</text>
<text x="56.5" y="404.8" font-size="19.8" fill="#000" text-anchor="start" textLength="11.3" lengthAdjust="spacingAndGlyphs">0</text>
<text x="56.5" y="352.8" font-size="19.8" fill="#000" text-anchor="start" textLength="11.3" lengthAdjust="spacingAndGlyphs">5</text>
<text x="45.2" y="300.8" font-size="19.8" fill="#000" text-anchor="start" textLength="22.6" lengthAdjust="spacingAndGlyphs">10</text>
<text x="45.2" y="248.8" font-size="19.8" fill="#000" text-anchor="start" textLength="22.6" lengthAdjust="spacingAndGlyphs">15</text>
<text x="45.2" y="196.8" font-size="19.8" fill="#000" text-anchor="start" textLength="22.6" lengthAdjust="spacingAndGlyphs">20</text>
<text x="45.2" y="144.8" font-size="19.8" fill="#000" text-anchor="start" textLength="22.6" lengthAdjust="spacingAndGlyphs">25</text>
<text x="45.2" y="92.8" font-size="19.8" fill="#000" text-anchor="start" textLength="22.6" lengthAdjust="spacingAndGlyphs">30</text>
<text x="354" y="31.8" font-size="24.9" fill="#2669a4" text-anchor="start" textLength="444" lengthAdjust="spacingAndGlyphs">Temperatura Media diaria - Beasain</text>
<text x="50" y="54.6" font-size="17.3" fill="#000" text-anchor="start" textLength="17.3" lengthAdjust="spacingAndGlyphs">°C</text>
<text x="84" y="54.6" font-size="17.3" fill="#000" text-anchor="start" textLength="208.4" lengthAdjust="spacingAndGlyphs">Última temp: 2025-12-06</text>
<text x="90" y="83.8" font-size="22" fill="#2669a4" text-anchor="start" textLength="237.5" lengthAdjust="spacingAndGlyphs">WWW.EMBALSES.NET</text>
<rect x="185.5" y="476.5" width="782.5" height="40" rx="3" ry="3" fill="#fff" fill-opacity="0.8" stroke="#cccccc" stroke-width="1"/>
<line x1="192.2" y1="491.2" x2="224.8" y2="491.2" stroke="#ff0000" stroke-width="0.75" stroke-dasharray="2.57,1.11"/>
<text x="240" y="496.5" font-size="17.3" fill="#000" text-anchor="start" textLength="96" lengthAdjust="spacingAndGlyphs">Percentil 95</text>
<line x1="370.5" y1="491.2" x2="403.3" y2="491.2" stroke="#add8e6" stroke-width="1.4" stroke-dasharray="5.14,2.22"/>
<text x="417.8" y="496.5" font-size="17.3" fill="#000" text-anchor="start" textLength="86" lengthAdjust="spacingAndGlyphs">Percentil 5</text>
<line x1="538.5" y1="491.2" x2="571.5" y2="491.2" stroke="#000" stroke-width="2.8" stroke-linecap="round"/>
<text x="584.8" y="496.5" font-size="17.3" fill="#000" text-anchor="start" textLength="179.7" lengthAdjust="spacingAndGlyphs">Temperatura Mediana</text>
<line x1="799.5" y1="491.2" x2="832.5" y2="491.2" stroke="#000" stroke-width="1"/>
<text x="846.3" y="496.5" font-size="17.3" fill="#000" text-anchor="start" textLength="114.7" lengthAdjust="spacingAndGlyphs">T. Media 2025</text>
</svg></body></html>
